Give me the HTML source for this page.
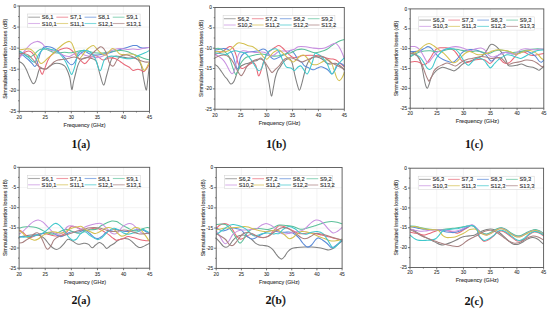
<!DOCTYPE html>
<html><head><meta charset="utf-8"><style>
html,body{margin:0;padding:0;background:#fff;width:550px;height:310px;overflow:hidden}
svg{display:block}
text{font-family:"Liberation Sans",sans-serif;fill:#333}
.grid{stroke:#ededed;stroke-width:0.6}
.cv{fill:none;stroke-width:1.05}
.frame{fill:none;stroke:#555;stroke-width:0.9}
.tk{stroke:#555;stroke-width:0.8}
.tl{font-size:4.8px;fill:#333;stroke:#333;stroke-width:0.08}
.at{font-size:5.4px;fill:#333;stroke:#333;stroke-width:0.1}
.leg{fill:#fff;stroke:#d0d0d0;stroke-width:0.5}
.ll{stroke-width:1.1}
.ft{font-size:5.8px}
.lt{font-size:5.7px;fill:#2a2a2a;stroke:#2a2a2a;stroke-width:0.1}
.cap{font-family:"Liberation Serif",serif;font-size:11.2px;fill:#111}
.pn{font-weight:normal;font-size:11.9px;stroke:#111;stroke-width:0.3}
</style></head><body>
<svg width="550" height="310" viewBox="0 0 550 310">
<g><line x1="45.26" y1="6.00" x2="45.26" y2="111.35" class="grid"/><line x1="71.32" y1="6.00" x2="71.32" y2="111.35" class="grid"/><line x1="97.38" y1="6.00" x2="97.38" y2="111.35" class="grid"/><line x1="123.44" y1="6.00" x2="123.44" y2="111.35" class="grid"/><line x1="19.20" y1="27.07" x2="149.50" y2="27.07" class="grid"/><line x1="19.20" y1="48.14" x2="149.50" y2="48.14" class="grid"/><line x1="19.20" y1="69.21" x2="149.50" y2="69.21" class="grid"/><line x1="19.20" y1="90.28" x2="149.50" y2="90.28" class="grid"/><path d="M19.20 61.50C19.50 61.67 20.37 62.05 21.00 62.50C21.63 62.95 22.33 63.45 23.00 64.20C23.67 64.95 24.33 65.87 25.00 67.00C25.67 68.13 26.33 69.50 27.00 71.00C27.67 72.50 28.37 74.50 29.00 76.00C29.63 77.50 30.25 78.87 30.80 80.00C31.35 81.13 31.78 82.20 32.30 82.80C32.82 83.40 33.37 83.82 33.90 83.60C34.43 83.38 34.98 82.60 35.50 81.50C36.02 80.40 36.50 78.67 37.00 77.00C37.50 75.33 38.00 72.95 38.50 71.50C39.00 70.05 39.25 68.75 40.00 68.30C40.75 67.85 41.90 68.72 43.00 68.80C44.10 68.88 45.43 69.27 46.60 68.80C47.77 68.33 48.65 66.87 50.00 66.00C51.35 65.13 53.13 64.00 54.70 63.60C56.27 63.20 57.85 63.28 59.40 63.60C60.95 63.92 62.85 64.72 64.00 65.50C65.15 66.28 65.33 66.30 66.30 68.30C67.27 70.30 68.88 73.97 69.80 77.50C70.72 81.03 71.18 88.75 71.80 89.50C72.42 90.25 72.80 84.92 73.50 82.00C74.20 79.08 75.28 74.73 76.00 72.00C76.72 69.27 77.13 67.43 77.80 65.60C78.47 63.77 78.97 62.27 80.00 61.00C81.03 59.73 82.33 58.50 84.00 58.00C85.67 57.50 87.98 57.50 90.00 58.00C92.02 58.50 94.53 58.62 96.10 61.00C97.67 63.38 98.17 68.30 99.40 72.30C100.63 76.30 102.30 84.47 103.50 85.00C104.70 85.53 105.55 78.97 106.60 75.50C107.65 72.03 108.85 67.17 109.80 64.20C110.75 61.23 111.27 59.07 112.30 57.70C113.33 56.33 114.38 56.12 116.00 56.00C117.62 55.88 120.00 56.67 122.00 57.00C124.00 57.33 126.00 57.83 128.00 58.00C130.00 58.17 132.33 57.67 134.00 58.00C135.67 58.33 136.77 58.67 138.00 60.00C139.23 61.33 140.48 63.00 141.40 66.00C142.32 69.00 142.70 74.00 143.50 78.00C144.30 82.00 145.53 89.33 146.20 90.00C146.87 90.67 147.10 85.00 147.50 82.00C147.90 79.00 148.27 74.67 148.60 72.00C148.93 69.33 149.35 67.00 149.50 66.00" stroke="#808080" class="cv"/><path d="M19.20 56.40C19.97 55.80 22.23 53.70 23.80 52.80C25.37 51.90 27.20 51.00 28.60 51.00C30.00 51.00 31.00 51.50 32.20 52.80C33.40 54.10 34.80 56.80 35.80 58.80C36.80 60.80 37.20 62.27 38.20 64.80C39.20 67.33 40.88 72.90 41.80 74.00C42.72 75.10 43.00 72.90 43.70 71.40C44.40 69.90 45.23 66.97 46.00 65.00C46.77 63.03 47.40 61.23 48.30 59.60C49.20 57.97 50.08 56.53 51.40 55.20C52.72 53.87 54.60 52.60 56.20 51.60C57.80 50.60 59.20 49.80 61.00 49.20C62.80 48.60 65.20 47.80 67.00 48.00C68.80 48.20 70.20 49.00 71.80 50.40C73.40 51.80 75.00 54.60 76.60 56.40C78.20 58.20 80.00 60.00 81.40 61.20C82.80 62.40 83.80 63.80 85.00 63.60C86.20 63.40 87.40 61.20 88.60 60.00C89.80 58.80 90.80 57.07 92.20 56.40C93.60 55.73 95.20 55.40 97.00 56.00C98.80 56.60 101.00 59.67 103.00 60.00C105.00 60.33 107.00 58.25 109.00 58.00C111.00 57.75 113.20 57.97 115.00 58.50C116.80 59.03 118.20 60.15 119.80 61.20C121.40 62.25 123.00 63.80 124.60 64.80C126.20 65.80 128.00 66.27 129.40 67.20C130.80 68.13 131.60 70.07 133.00 70.40C134.40 70.73 136.40 69.20 137.80 69.20C139.20 69.20 140.40 70.00 141.40 70.40C142.40 70.80 143.00 71.80 143.80 71.60C144.60 71.40 145.40 70.20 146.20 69.20C147.00 68.20 148.05 66.47 148.60 65.60C149.15 64.73 149.35 64.27 149.50 64.00" stroke="#e86878" class="cv"/><path d="M19.20 52.80C19.97 53.30 22.23 54.60 23.80 55.80C25.37 57.00 27.20 58.70 28.60 60.00C30.00 61.30 31.15 62.52 32.20 63.60C33.25 64.68 34.00 66.70 34.90 66.50C35.80 66.30 36.75 64.48 37.60 62.40C38.45 60.32 39.10 56.40 40.00 54.00C40.90 51.60 42.10 49.23 43.00 48.00C43.90 46.77 44.20 46.77 45.40 46.60C46.60 46.43 48.60 46.57 50.20 47.00C51.80 47.43 53.40 48.23 55.00 49.20C56.60 50.17 58.20 51.40 59.80 52.80C61.40 54.20 63.20 56.00 64.60 57.60C66.00 59.20 67.10 61.20 68.20 62.40C69.30 63.60 70.20 64.70 71.20 64.80C72.20 64.90 73.10 64.40 74.20 63.00C75.30 61.60 76.60 58.10 77.80 56.40C79.00 54.70 80.20 53.60 81.40 52.80C82.60 52.00 83.60 51.40 85.00 51.60C86.40 51.80 88.13 53.43 89.80 54.00C91.47 54.57 93.13 54.92 95.00 55.00C96.87 55.08 98.67 54.83 101.00 54.50C103.33 54.17 106.67 53.58 109.00 53.00C111.33 52.42 113.00 51.63 115.00 51.00C117.00 50.37 119.00 49.80 121.00 49.20C123.00 48.60 125.00 48.00 127.00 47.40C129.00 46.80 131.40 45.90 133.00 45.60C134.60 45.30 135.40 45.30 136.60 45.60C137.80 45.90 138.80 47.00 140.20 47.40C141.60 47.80 143.45 48.00 145.00 48.00C146.55 48.00 148.75 47.50 149.50 47.40" stroke="#5a8ad8" class="cv"/><path d="M19.20 51.60C19.77 51.80 21.43 52.10 22.60 52.80C23.77 53.50 25.00 55.10 26.20 55.80C27.40 56.50 28.60 57.10 29.80 57.00C31.00 56.90 32.20 56.10 33.40 55.20C34.60 54.30 35.80 52.60 37.00 51.60C38.20 50.60 39.20 49.60 40.60 49.20C42.00 48.80 43.80 48.90 45.40 49.20C47.00 49.50 48.60 50.40 50.20 51.00C51.80 51.60 53.40 52.50 55.00 52.80C56.60 53.10 58.20 52.90 59.80 52.80C61.40 52.70 63.00 52.20 64.60 52.20C66.20 52.20 67.80 52.80 69.40 52.80C71.00 52.80 72.60 52.50 74.20 52.20C75.80 51.90 77.20 51.30 79.00 51.00C80.80 50.70 83.00 50.23 85.00 50.40C87.00 50.57 89.00 51.57 91.00 52.00C93.00 52.43 95.00 52.83 97.00 53.00C99.00 53.17 101.00 53.17 103.00 53.00C105.00 52.83 107.00 52.33 109.00 52.00C111.00 51.67 113.00 51.27 115.00 51.00C117.00 50.73 119.00 50.30 121.00 50.40C123.00 50.50 125.00 51.00 127.00 51.60C129.00 52.20 131.00 53.20 133.00 54.00C135.00 54.80 137.00 55.60 139.00 56.40C141.00 57.20 143.25 58.20 145.00 58.80C146.75 59.40 148.75 59.80 149.50 60.00" stroke="#5cc09a" class="cv"/><path d="M19.20 58.80C20.17 57.40 23.03 52.90 25.00 50.40C26.97 47.90 29.00 45.30 31.00 43.80C33.00 42.30 35.20 41.50 37.00 41.40C38.80 41.30 40.40 42.20 41.80 43.20C43.20 44.20 44.20 46.30 45.40 47.40C46.60 48.50 47.60 49.20 49.00 49.80C50.40 50.40 52.20 50.50 53.80 51.00C55.40 51.50 57.00 52.10 58.60 52.80C60.20 53.50 61.60 54.60 63.40 55.20C65.20 55.80 67.60 56.60 69.40 56.40C71.20 56.20 72.60 54.60 74.20 54.00C75.80 53.40 77.20 52.60 79.00 52.80C80.80 53.00 83.00 54.58 85.00 55.20C87.00 55.82 89.00 56.10 91.00 56.50C93.00 56.90 95.00 57.68 97.00 57.60C99.00 57.52 101.00 56.93 103.00 56.00C105.00 55.07 107.00 53.13 109.00 52.00C111.00 50.87 113.00 49.77 115.00 49.20C117.00 48.63 119.00 48.55 121.00 48.60C123.00 48.65 125.00 49.43 127.00 49.50C129.00 49.57 131.00 49.00 133.00 49.00C135.00 49.00 137.00 49.67 139.00 49.50C141.00 49.33 143.25 48.35 145.00 48.00C146.75 47.65 148.75 47.50 149.50 47.40" stroke="#c890e0" class="cv"/><path d="M19.20 49.80C19.97 49.70 22.03 49.33 23.80 49.20C25.57 49.07 28.20 48.60 29.80 49.00C31.40 49.40 32.20 50.37 33.40 51.60C34.60 52.83 36.03 54.70 37.00 56.40C37.97 58.10 38.53 60.62 39.20 61.80C39.87 62.98 40.30 63.40 41.00 63.50C41.70 63.60 42.27 63.28 43.40 62.40C44.53 61.52 46.27 59.60 47.80 58.20C49.33 56.80 51.00 55.50 52.60 54.00C54.20 52.50 55.80 50.70 57.40 49.20C59.00 47.70 60.60 46.20 62.20 45.00C63.80 43.80 65.80 42.60 67.00 42.00C68.20 41.40 68.60 41.20 69.40 41.40C70.20 41.60 71.00 41.90 71.80 43.20C72.60 44.50 73.40 47.20 74.20 49.20C75.00 51.20 75.80 53.60 76.60 55.20C77.40 56.80 78.10 58.67 79.00 58.80C79.90 58.93 81.00 57.20 82.00 56.00C83.00 54.80 83.90 52.93 85.00 51.60C86.10 50.27 87.20 49.00 88.60 48.00C90.00 47.00 92.00 45.40 93.40 45.60C94.80 45.80 95.80 48.00 97.00 49.20C98.20 50.40 99.20 51.80 100.60 52.80C102.00 53.80 104.00 55.40 105.40 55.20C106.80 55.00 107.80 52.70 109.00 51.60C110.20 50.50 111.40 48.80 112.60 48.60C113.80 48.40 115.00 49.50 116.20 50.40C117.40 51.30 118.40 53.30 119.80 54.00C121.20 54.70 122.80 54.60 124.60 54.60C126.40 54.60 128.80 53.90 130.60 54.00C132.40 54.10 134.00 54.40 135.40 55.20C136.80 56.00 138.00 57.20 139.00 58.80C140.00 60.40 140.60 62.90 141.40 64.80C142.20 66.70 143.00 69.60 143.80 70.20C144.60 70.80 145.40 69.50 146.20 68.40C147.00 67.30 148.05 64.67 148.60 63.60C149.15 62.53 149.35 62.27 149.50 62.00" stroke="#d4c050" class="cv"/><path d="M19.20 51.00C19.97 51.50 22.23 52.90 23.80 54.00C25.37 55.10 27.20 56.40 28.60 57.60C30.00 58.80 31.10 60.50 32.20 61.20C33.30 61.90 34.20 62.80 35.20 61.80C36.20 60.80 37.10 57.10 38.20 55.20C39.30 53.30 40.60 51.60 41.80 50.40C43.00 49.20 44.00 48.20 45.40 48.00C46.80 47.80 48.60 48.80 50.20 49.20C51.80 49.60 53.40 49.60 55.00 50.40C56.60 51.20 58.20 52.40 59.80 54.00C61.40 55.60 63.20 57.80 64.60 60.00C66.00 62.20 67.08 64.80 68.20 67.20C69.32 69.60 70.40 73.87 71.30 74.40C72.20 74.93 72.92 72.07 73.60 70.40C74.28 68.73 74.70 67.13 75.40 64.40C76.10 61.67 76.80 56.23 77.80 54.00C78.80 51.77 80.20 51.60 81.40 51.00C82.60 50.40 83.57 50.23 85.00 50.40C86.43 50.57 88.33 50.73 90.00 52.00C91.67 53.27 93.33 54.87 95.00 58.00C96.67 61.13 98.47 70.47 100.00 70.80C101.53 71.13 102.70 62.40 104.20 60.00C105.70 57.60 107.20 57.00 109.00 56.40C110.80 55.80 113.00 56.20 115.00 56.40C117.00 56.60 119.00 57.20 121.00 57.60C123.00 58.00 125.00 58.70 127.00 58.80C129.00 58.90 131.00 58.80 133.00 58.20C135.00 57.60 137.00 56.10 139.00 55.20C141.00 54.30 143.25 53.60 145.00 52.80C146.75 52.00 148.75 50.80 149.50 50.40" stroke="#40c8cc" class="cv"/><path d="M19.20 54.00C19.97 53.90 22.23 53.20 23.80 53.40C25.37 53.60 27.00 54.10 28.60 55.20C30.20 56.30 32.00 58.40 33.40 60.00C34.80 61.60 35.90 63.63 37.00 64.80C38.10 65.97 38.83 66.30 40.00 67.00C41.17 67.70 42.83 68.75 44.00 69.00C45.17 69.25 46.00 69.00 47.00 68.50C48.00 68.00 48.83 67.08 50.00 66.00C51.17 64.92 52.67 63.00 54.00 62.00C55.33 61.00 56.67 60.42 58.00 60.00C59.33 59.58 60.67 59.67 62.00 59.50C63.33 59.33 64.67 59.25 66.00 59.00C67.33 58.75 68.67 58.33 70.00 58.00C71.33 57.67 72.67 57.00 74.00 57.00C75.33 57.00 76.67 57.67 78.00 58.00C79.33 58.33 80.67 59.00 82.00 59.00C83.33 59.00 84.67 58.50 86.00 58.00C87.33 57.50 88.50 57.17 90.00 56.00C91.50 54.83 93.23 52.53 95.00 51.00C96.77 49.47 99.10 47.13 100.60 46.80C102.10 46.47 103.00 47.80 104.00 49.00C105.00 50.20 105.77 51.83 106.60 54.00C107.43 56.17 108.18 60.07 109.00 62.00C109.82 63.93 110.70 65.00 111.50 65.60C112.30 66.20 112.88 66.53 113.80 65.60C114.72 64.67 115.80 61.60 117.00 60.00C118.20 58.40 119.33 56.83 121.00 56.00C122.67 55.17 125.00 54.83 127.00 55.00C129.00 55.17 131.00 56.17 133.00 57.00C135.00 57.83 137.00 59.17 139.00 60.00C141.00 60.83 143.25 61.67 145.00 62.00C146.75 62.33 148.75 62.00 149.50 62.00" stroke="#a88080" class="cv"/><rect x="19.20" y="6.00" width="130.30" height="105.35" class="frame"/><line x1="17.20" y1="6.00" x2="19.20" y2="6.00" class="tk"/><line x1="18.10" y1="16.54" x2="19.20" y2="16.54" class="tk"/><line x1="17.20" y1="27.07" x2="19.20" y2="27.07" class="tk"/><line x1="18.10" y1="37.60" x2="19.20" y2="37.60" class="tk"/><line x1="17.20" y1="48.14" x2="19.20" y2="48.14" class="tk"/><line x1="18.10" y1="58.67" x2="19.20" y2="58.67" class="tk"/><line x1="17.20" y1="69.21" x2="19.20" y2="69.21" class="tk"/><line x1="18.10" y1="79.74" x2="19.20" y2="79.74" class="tk"/><line x1="17.20" y1="90.28" x2="19.20" y2="90.28" class="tk"/><line x1="18.10" y1="100.81" x2="19.20" y2="100.81" class="tk"/><line x1="17.20" y1="111.35" x2="19.20" y2="111.35" class="tk"/><line x1="19.20" y1="111.35" x2="19.20" y2="113.35" class="tk"/><line x1="32.23" y1="111.35" x2="32.23" y2="112.45" class="tk"/><line x1="45.26" y1="111.35" x2="45.26" y2="113.35" class="tk"/><line x1="58.29" y1="111.35" x2="58.29" y2="112.45" class="tk"/><line x1="71.32" y1="111.35" x2="71.32" y2="113.35" class="tk"/><line x1="84.35" y1="111.35" x2="84.35" y2="112.45" class="tk"/><line x1="97.38" y1="111.35" x2="97.38" y2="113.35" class="tk"/><line x1="110.41" y1="111.35" x2="110.41" y2="112.45" class="tk"/><line x1="123.44" y1="111.35" x2="123.44" y2="113.35" class="tk"/><line x1="136.47" y1="111.35" x2="136.47" y2="112.45" class="tk"/><line x1="149.50" y1="111.35" x2="149.50" y2="113.35" class="tk"/><text x="16.20" y="7.60" class="tl" text-anchor="end">0</text><text x="16.20" y="28.67" class="tl" text-anchor="end">-5</text><text x="16.20" y="49.74" class="tl" text-anchor="end">-10</text><text x="16.20" y="70.81" class="tl" text-anchor="end">-15</text><text x="16.20" y="91.88" class="tl" text-anchor="end">-20</text><text x="16.20" y="112.95" class="tl" text-anchor="end">-25</text><text x="19.20" y="118.50" class="tl" text-anchor="middle">20</text><text x="45.26" y="118.50" class="tl" text-anchor="middle">25</text><text x="71.32" y="118.50" class="tl" text-anchor="middle">30</text><text x="97.38" y="118.50" class="tl" text-anchor="middle">35</text><text x="123.44" y="118.50" class="tl" text-anchor="middle">40</text><text x="149.50" y="118.50" class="tl" text-anchor="middle">45</text><text x="63.60" y="127.10" class="at ft" textLength="42.0" lengthAdjust="spacingAndGlyphs">Frequency (GHz)</text><text transform="translate(6.90 58.67) rotate(-90)" class="at" text-anchor="middle" textLength="80.1" lengthAdjust="spacingAndGlyphs">Simmulated Insertion losses (dB)</text><rect x="27.40" y="14.00" width="112.70" height="13.2" class="leg"/><line x1="28.20" y1="17.20" x2="40.00" y2="17.20" stroke="#acacac" class="ll"/><text x="41.70" y="19.20" class="lt">S6,1</text><line x1="56.38" y1="17.20" x2="68.17" y2="17.20" stroke="#f09da7" class="ll"/><text x="69.88" y="19.20" class="lt">S7,1</text><line x1="84.55" y1="17.20" x2="96.35" y2="17.20" stroke="#94b3e6" class="ll"/><text x="98.05" y="19.20" class="lt">S8,1</text><line x1="112.73" y1="17.20" x2="124.53" y2="17.20" stroke="#95d6bd" class="ll"/><text x="126.23" y="19.20" class="lt">S9,1</text><line x1="28.20" y1="23.50" x2="40.00" y2="23.50" stroke="#dbb7eb" class="ll"/><text x="41.70" y="25.50" class="lt">S10,1</text><line x1="56.38" y1="23.50" x2="68.17" y2="23.50" stroke="#e3d68d" class="ll"/><text x="69.88" y="25.50" class="lt">S11,1</text><line x1="84.55" y1="23.50" x2="96.35" y2="23.50" stroke="#83dbde" class="ll"/><text x="98.05" y="25.50" class="lt">S12,1</text><line x1="112.73" y1="23.50" x2="124.53" y2="23.50" stroke="#c6acac" class="ll"/><text x="126.23" y="25.50" class="lt">S13,1</text><text x="71.60" y="148.30" class="cap" textLength="18.34" lengthAdjust="spacingAndGlyphs"><tspan font-weight="bold" font-size="12.3px">1</tspan><tspan class="pn">(</tspan><tspan font-weight="bold" font-size="10.6px">a</tspan><tspan class="pn">)</tspan></text></g><g><line x1="240.78" y1="7.50" x2="240.78" y2="109.20" class="grid"/><line x1="266.66" y1="7.50" x2="266.66" y2="109.20" class="grid"/><line x1="292.54" y1="7.50" x2="292.54" y2="109.20" class="grid"/><line x1="318.42" y1="7.50" x2="318.42" y2="109.20" class="grid"/><line x1="214.90" y1="27.84" x2="344.30" y2="27.84" class="grid"/><line x1="214.90" y1="48.18" x2="344.30" y2="48.18" class="grid"/><line x1="214.90" y1="68.52" x2="344.30" y2="68.52" class="grid"/><line x1="214.90" y1="88.86" x2="344.30" y2="88.86" class="grid"/><path d="M214.90 64.60C215.35 64.90 216.55 65.30 217.60 66.40C218.65 67.50 220.00 69.52 221.20 71.20C222.40 72.88 223.80 75.17 224.80 76.50C225.80 77.83 226.20 77.95 227.20 79.20C228.20 80.45 229.70 83.60 230.80 84.00C231.90 84.40 232.93 82.93 233.80 81.60C234.67 80.27 235.30 77.93 236.00 76.00C236.70 74.07 237.17 71.67 238.00 70.00C238.83 68.33 239.83 67.00 241.00 66.00C242.17 65.00 243.67 64.50 245.00 64.00C246.33 63.50 247.67 63.42 249.00 63.00C250.33 62.58 251.63 61.93 253.00 61.50C254.37 61.07 255.90 60.98 257.20 60.40C258.50 59.82 259.83 58.07 260.80 58.00C261.77 57.93 262.20 58.80 263.00 60.00C263.80 61.20 264.97 63.33 265.60 65.20C266.23 67.07 266.20 68.07 266.80 71.20C267.40 74.33 268.43 79.87 269.20 84.00C269.97 88.13 270.70 95.40 271.40 96.00C272.10 96.60 272.77 90.60 273.40 87.60C274.03 84.60 274.50 80.80 275.20 78.00C275.90 75.20 276.80 72.60 277.60 70.80C278.40 69.00 279.17 68.47 280.00 67.20C280.83 65.93 281.57 64.47 282.60 63.20C283.63 61.93 285.00 60.30 286.20 59.60C287.40 58.90 288.80 58.40 289.80 59.00C290.80 59.60 291.40 60.70 292.20 63.20C293.00 65.70 293.80 70.60 294.60 74.00C295.40 77.40 296.20 80.90 297.00 83.60C297.80 86.30 298.60 90.20 299.40 90.20C300.20 90.20 301.00 86.30 301.80 83.60C302.60 80.90 303.40 77.00 304.20 74.00C305.00 71.00 305.80 67.80 306.60 65.60C307.40 63.40 308.00 62.20 309.00 60.80C310.00 59.40 311.27 57.83 312.60 57.20C313.93 56.57 315.43 56.70 317.00 57.00C318.57 57.30 320.33 57.97 322.00 59.00C323.67 60.03 325.50 62.37 327.00 63.20C328.50 64.03 329.60 64.00 331.00 64.00C332.40 64.00 334.07 63.03 335.40 63.20C336.73 63.37 337.80 64.20 339.00 65.00C340.20 65.80 341.72 67.17 342.60 68.00C343.48 68.83 344.02 69.67 344.30 70.00" stroke="#808080" class="cv"/><path d="M214.90 54.40C215.58 54.17 217.55 53.60 219.00 53.00C220.45 52.40 221.83 51.87 223.60 50.80C225.37 49.73 228.00 47.00 229.60 46.60C231.20 46.20 232.10 46.90 233.20 48.40C234.30 49.90 235.40 53.20 236.20 55.60C237.00 58.00 237.30 60.80 238.00 62.80C238.70 64.80 239.60 66.67 240.40 67.60C241.20 68.53 242.00 68.47 242.80 68.40C243.60 68.33 244.00 67.93 245.20 67.20C246.40 66.47 248.60 64.73 250.00 64.00C251.40 63.27 252.60 62.47 253.60 62.80C254.60 63.13 255.20 63.87 256.00 66.00C256.80 68.13 257.70 74.40 258.40 75.60C259.10 76.80 259.60 74.60 260.20 73.20C260.80 71.80 261.30 69.53 262.00 67.20C262.70 64.87 263.60 61.33 264.40 59.20C265.20 57.07 265.80 55.80 266.80 54.40C267.80 53.00 269.00 52.00 270.40 50.80C271.80 49.60 273.77 48.07 275.20 47.20C276.63 46.33 277.77 45.47 279.00 45.60C280.23 45.73 281.40 47.00 282.60 48.00C283.80 49.00 285.00 50.40 286.20 51.60C287.40 52.80 288.60 54.20 289.80 55.20C291.00 56.20 292.03 57.30 293.40 57.60C294.77 57.90 296.40 57.35 298.00 57.00C299.60 56.65 300.97 55.80 303.00 55.50C305.03 55.20 308.03 55.20 310.20 55.20C312.37 55.20 314.37 55.28 316.00 55.50C317.63 55.72 318.57 56.15 320.00 56.50C321.43 56.85 323.03 57.22 324.60 57.60C326.17 57.98 328.00 58.57 329.40 58.80C330.80 59.03 331.90 58.80 333.00 59.00C334.10 59.20 335.00 59.43 336.00 60.00C337.00 60.57 338.10 61.67 339.00 62.40C339.90 63.13 340.52 63.63 341.40 64.40C342.28 65.17 343.82 66.57 344.30 67.00" stroke="#e86878" class="cv"/><path d="M214.90 50.20C215.55 50.10 217.35 49.90 218.80 49.60C220.25 49.30 222.00 48.40 223.60 48.40C225.20 48.40 227.00 48.80 228.40 49.60C229.80 50.40 231.00 51.40 232.00 53.20C233.00 55.00 233.70 58.18 234.40 60.40C235.10 62.62 235.70 65.07 236.20 66.50C236.70 67.93 236.93 69.08 237.40 69.00C237.87 68.92 238.50 67.83 239.00 66.00C239.50 64.17 239.57 60.13 240.40 58.00C241.23 55.87 242.60 54.20 244.00 53.20C245.40 52.20 247.20 52.30 248.80 52.00C250.40 51.70 252.00 51.60 253.60 51.40C255.20 51.20 256.80 51.20 258.40 50.80C260.00 50.40 261.80 49.00 263.20 49.00C264.60 49.00 265.60 49.50 266.80 50.80C268.00 52.10 269.20 55.40 270.40 56.80C271.60 58.20 272.40 59.20 274.00 59.20C275.60 59.20 278.50 57.50 280.00 56.80C281.50 56.10 281.97 55.47 283.00 55.00C284.03 54.53 284.87 54.77 286.20 54.00C287.53 53.23 289.60 50.40 291.00 50.40C292.40 50.40 293.40 52.40 294.60 54.00C295.80 55.60 297.00 58.60 298.20 60.00C299.40 61.40 300.80 61.47 301.80 62.40C302.80 63.33 303.17 64.75 304.20 65.60C305.23 66.45 306.80 66.90 308.00 67.50C309.20 68.10 310.43 68.82 311.40 69.20C312.37 69.58 312.80 70.00 313.80 69.80C314.80 69.60 316.20 68.50 317.40 68.00C318.60 67.50 319.80 66.80 321.00 66.80C322.20 66.80 323.43 67.47 324.60 68.00C325.77 68.53 326.80 69.00 328.00 70.00C329.20 71.00 330.57 74.13 331.80 74.00C333.03 73.87 334.20 71.00 335.40 69.20C336.60 67.40 337.90 64.07 339.00 63.20C340.10 62.33 341.12 63.53 342.00 64.00C342.88 64.47 343.92 65.67 344.30 66.00" stroke="#5a8ad8" class="cv"/><path d="M214.90 49.00C215.55 48.90 217.35 48.10 218.80 48.40C220.25 48.70 222.00 49.60 223.60 50.80C225.20 52.00 227.20 53.80 228.40 55.60C229.60 57.40 230.00 59.40 230.80 61.60C231.60 63.80 232.40 66.67 233.20 68.80C234.00 70.93 234.90 73.87 235.60 74.40C236.30 74.93 236.80 73.00 237.40 72.00C238.00 71.00 238.70 69.73 239.20 68.40C239.70 67.07 239.60 65.53 240.40 64.00C241.20 62.47 242.80 60.40 244.00 59.20C245.20 58.00 246.20 57.40 247.60 56.80C249.00 56.20 250.83 55.98 252.40 55.60C253.97 55.22 255.40 54.77 257.00 54.50C258.60 54.23 260.33 53.92 262.00 54.00C263.67 54.08 265.33 54.67 267.00 55.00C268.67 55.33 270.33 55.83 272.00 56.00C273.67 56.17 275.33 56.17 277.00 56.00C278.67 55.83 280.33 55.42 282.00 55.00C283.67 54.58 285.50 53.87 287.00 53.50C288.50 53.13 289.33 53.42 291.00 52.80C292.67 52.18 295.00 50.40 297.00 49.80C299.00 49.20 301.00 49.00 303.00 49.20C305.00 49.40 307.00 50.40 309.00 51.00C311.00 51.60 313.00 52.70 315.00 52.80C317.00 52.90 319.00 52.20 321.00 51.60C323.00 51.00 325.20 50.20 327.00 49.20C328.80 48.20 330.40 46.60 331.80 45.60C333.20 44.60 334.00 44.00 335.40 43.20C336.80 42.40 338.72 41.40 340.20 40.80C341.68 40.20 343.62 39.80 344.30 39.60" stroke="#5cc09a" class="cv"/><path d="M214.90 54.40C215.42 54.67 216.75 55.20 218.00 56.00C219.25 56.80 221.07 57.87 222.40 59.20C223.73 60.53 224.80 62.07 226.00 64.00C227.20 65.93 228.60 69.17 229.60 70.80C230.60 72.43 231.30 73.60 232.00 73.80C232.70 74.00 233.30 72.90 233.80 72.00C234.30 71.10 234.50 70.33 235.00 68.40C235.50 66.47 236.10 62.93 236.80 60.40C237.50 57.87 238.20 54.80 239.20 53.20C240.20 51.60 241.40 51.10 242.80 50.80C244.20 50.50 246.07 51.20 247.60 51.40C249.13 51.60 250.43 51.82 252.00 52.00C253.57 52.18 255.33 52.50 257.00 52.50C258.67 52.50 260.50 51.92 262.00 52.00C263.50 52.08 264.67 52.33 266.00 53.00C267.33 53.67 268.67 55.67 270.00 56.00C271.33 56.33 272.67 55.67 274.00 55.00C275.33 54.33 276.67 52.67 278.00 52.00C279.33 51.33 280.50 51.17 282.00 51.00C283.50 50.83 285.50 51.17 287.00 51.00C288.50 50.83 289.73 50.30 291.00 50.00C292.27 49.70 293.40 49.73 294.60 49.20C295.80 48.67 296.40 47.20 298.20 46.80C300.00 46.40 303.00 46.60 305.40 46.80C307.80 47.00 310.40 47.70 312.60 48.00C314.80 48.30 316.60 48.60 318.60 48.60C320.60 48.60 322.70 48.52 324.60 48.00C326.50 47.48 328.20 46.30 330.00 45.50C331.80 44.70 333.90 42.98 335.40 43.20C336.90 43.42 337.80 45.00 339.00 46.80C340.20 48.60 341.72 52.00 342.60 54.00C343.48 56.00 344.02 58.00 344.30 58.80" stroke="#c890e0" class="cv"/><path d="M214.90 52.00C215.55 51.90 217.35 51.40 218.80 51.40C220.25 51.40 222.00 52.10 223.60 52.00C225.20 51.90 226.80 51.60 228.40 50.80C230.00 50.00 231.60 48.50 233.20 47.20C234.80 45.90 236.40 43.60 238.00 43.00C239.60 42.40 241.20 43.20 242.80 43.60C244.40 44.00 246.00 44.90 247.60 45.40C249.20 45.90 251.00 46.00 252.40 46.60C253.80 47.20 254.80 48.10 256.00 49.00C257.20 49.90 258.40 50.70 259.60 52.00C260.80 53.30 262.00 55.60 263.20 56.80C264.40 58.00 265.60 59.40 266.80 59.20C268.00 59.00 269.20 56.80 270.40 55.60C271.60 54.40 272.57 52.93 274.00 52.00C275.43 51.07 277.37 49.67 279.00 50.00C280.63 50.33 282.20 52.53 283.80 54.00C285.40 55.47 287.40 57.67 288.60 58.80C289.80 59.93 290.18 60.27 291.00 60.80C291.82 61.33 292.67 62.13 293.50 62.00C294.33 61.87 294.82 61.03 296.00 60.00C297.18 58.97 299.23 56.60 300.60 55.80C301.97 55.00 303.00 54.70 304.20 55.20C305.40 55.70 306.75 57.50 307.80 58.80C308.85 60.10 309.70 62.07 310.50 63.00C311.30 63.93 311.45 64.17 312.60 64.40C313.75 64.63 315.80 64.80 317.40 64.40C319.00 64.00 320.60 62.80 322.20 62.00C323.80 61.20 325.53 59.60 327.00 59.60C328.47 59.60 329.80 60.20 331.00 62.00C332.20 63.80 333.27 67.80 334.20 70.40C335.13 73.00 335.80 75.90 336.60 77.60C337.40 79.30 338.20 80.40 339.00 80.60C339.80 80.80 340.60 79.90 341.40 78.80C342.20 77.70 343.32 75.13 343.80 74.00C344.28 72.87 344.22 72.33 344.30 72.00" stroke="#d4c050" class="cv"/><path d="M214.90 53.00C215.75 53.08 218.15 53.27 220.00 53.50C221.85 53.73 224.20 54.65 226.00 54.40C227.80 54.15 229.20 52.60 230.80 52.00C232.40 51.40 234.00 50.80 235.60 50.80C237.20 50.80 238.80 51.60 240.40 52.00C242.00 52.40 243.80 52.40 245.20 53.20C246.60 54.00 247.60 55.40 248.80 56.80C250.00 58.20 251.20 59.80 252.40 61.60C253.60 63.40 254.90 66.07 256.00 67.60C257.10 69.13 258.00 70.80 259.00 70.80C260.00 70.80 261.10 69.53 262.00 67.60C262.90 65.67 263.40 61.80 264.40 59.20C265.40 56.60 266.80 53.60 268.00 52.00C269.20 50.40 270.20 50.10 271.60 49.60C273.00 49.10 275.17 48.60 276.40 49.00C277.63 49.40 277.97 50.17 279.00 52.00C280.03 53.83 281.40 57.53 282.60 60.00C283.80 62.47 284.80 65.47 286.20 66.80C287.60 68.13 289.60 67.40 291.00 68.00C292.40 68.60 293.43 70.57 294.60 70.40C295.77 70.23 296.93 67.73 298.00 67.00C299.07 66.27 299.97 65.43 301.00 66.00C302.03 66.57 303.17 69.07 304.20 70.40C305.23 71.73 306.20 74.40 307.20 74.00C308.20 73.60 309.23 70.33 310.20 68.00C311.17 65.67 312.20 62.43 313.00 60.00C313.80 57.57 313.87 54.20 315.00 53.40C316.13 52.60 318.40 54.30 319.80 55.20C321.20 56.10 322.20 57.47 323.40 58.80C324.60 60.13 326.00 61.47 327.00 63.20C328.00 64.93 328.60 67.40 329.40 69.20C330.20 71.00 331.00 73.60 331.80 74.00C332.60 74.40 333.40 73.00 334.20 71.60C335.00 70.20 335.60 67.20 336.60 65.60C337.60 64.00 339.00 63.20 340.20 62.00C341.40 60.80 343.12 59.07 343.80 58.40C344.48 57.73 344.22 58.07 344.30 58.00" stroke="#40c8cc" class="cv"/><path d="M214.90 58.00C215.58 57.67 217.48 56.50 219.00 56.00C220.52 55.50 222.33 54.83 224.00 55.00C225.67 55.17 227.50 55.83 229.00 57.00C230.50 58.17 231.70 59.90 233.00 62.00C234.30 64.10 235.47 67.33 236.80 69.60C238.13 71.87 239.80 75.20 241.00 75.60C242.20 76.00 243.10 73.40 244.00 72.00C244.90 70.60 245.40 68.70 246.40 67.20C247.40 65.70 248.57 64.20 250.00 63.00C251.43 61.80 253.33 60.67 255.00 60.00C256.67 59.33 258.50 58.83 260.00 59.00C261.50 59.17 262.67 59.67 264.00 61.00C265.33 62.33 266.93 65.37 268.00 67.00C269.07 68.63 269.70 69.87 270.40 70.80C271.10 71.73 271.40 72.80 272.20 72.60C273.00 72.40 274.07 70.70 275.20 69.60C276.33 68.50 277.77 67.47 279.00 66.00C280.23 64.53 281.27 62.13 282.60 60.80C283.93 59.47 285.43 58.47 287.00 58.00C288.57 57.53 290.33 57.67 292.00 58.00C293.67 58.33 295.33 59.33 297.00 60.00C298.67 60.67 300.33 62.00 302.00 62.00C303.67 62.00 305.33 60.67 307.00 60.00C308.67 59.33 310.17 58.67 312.00 58.00C313.83 57.33 316.00 56.17 318.00 56.00C320.00 55.83 322.00 56.00 324.00 57.00C326.00 58.00 328.33 60.83 330.00 62.00C331.67 63.17 332.67 63.33 334.00 64.00C335.33 64.67 336.67 65.33 338.00 66.00C339.33 66.67 340.95 67.33 342.00 68.00C343.05 68.67 343.92 69.67 344.30 70.00" stroke="#a88080" class="cv"/><rect x="214.90" y="7.50" width="129.40" height="101.70" class="frame"/><line x1="212.90" y1="7.50" x2="214.90" y2="7.50" class="tk"/><line x1="213.80" y1="17.67" x2="214.90" y2="17.67" class="tk"/><line x1="212.90" y1="27.84" x2="214.90" y2="27.84" class="tk"/><line x1="213.80" y1="38.01" x2="214.90" y2="38.01" class="tk"/><line x1="212.90" y1="48.18" x2="214.90" y2="48.18" class="tk"/><line x1="213.80" y1="58.35" x2="214.90" y2="58.35" class="tk"/><line x1="212.90" y1="68.52" x2="214.90" y2="68.52" class="tk"/><line x1="213.80" y1="78.69" x2="214.90" y2="78.69" class="tk"/><line x1="212.90" y1="88.86" x2="214.90" y2="88.86" class="tk"/><line x1="213.80" y1="99.03" x2="214.90" y2="99.03" class="tk"/><line x1="212.90" y1="109.20" x2="214.90" y2="109.20" class="tk"/><line x1="214.90" y1="109.20" x2="214.90" y2="111.20" class="tk"/><line x1="227.84" y1="109.20" x2="227.84" y2="110.30" class="tk"/><line x1="240.78" y1="109.20" x2="240.78" y2="111.20" class="tk"/><line x1="253.72" y1="109.20" x2="253.72" y2="110.30" class="tk"/><line x1="266.66" y1="109.20" x2="266.66" y2="111.20" class="tk"/><line x1="279.60" y1="109.20" x2="279.60" y2="110.30" class="tk"/><line x1="292.54" y1="109.20" x2="292.54" y2="111.20" class="tk"/><line x1="305.48" y1="109.20" x2="305.48" y2="110.30" class="tk"/><line x1="318.42" y1="109.20" x2="318.42" y2="111.20" class="tk"/><line x1="331.36" y1="109.20" x2="331.36" y2="110.30" class="tk"/><line x1="344.30" y1="109.20" x2="344.30" y2="111.20" class="tk"/><text x="211.90" y="9.10" class="tl" text-anchor="end">0</text><text x="211.90" y="29.44" class="tl" text-anchor="end">-5</text><text x="211.90" y="49.78" class="tl" text-anchor="end">-10</text><text x="211.90" y="70.12" class="tl" text-anchor="end">-15</text><text x="211.90" y="90.46" class="tl" text-anchor="end">-20</text><text x="211.90" y="110.80" class="tl" text-anchor="end">-25</text><text x="214.90" y="116.60" class="tl" text-anchor="middle">20</text><text x="240.78" y="116.60" class="tl" text-anchor="middle">25</text><text x="266.66" y="116.60" class="tl" text-anchor="middle">30</text><text x="292.54" y="116.60" class="tl" text-anchor="middle">35</text><text x="318.42" y="116.60" class="tl" text-anchor="middle">40</text><text x="344.30" y="116.60" class="tl" text-anchor="middle">45</text><text x="258.70" y="124.90" class="at ft" textLength="41.7" lengthAdjust="spacingAndGlyphs">Frequency (GHz)</text><text transform="translate(202.60 58.35) rotate(-90)" class="at" text-anchor="middle" textLength="77.3" lengthAdjust="spacingAndGlyphs">Simmulated Insertion losses (dB)</text><rect x="223.10" y="15.50" width="111.80" height="13.2" class="leg"/><line x1="223.90" y1="18.70" x2="235.70" y2="18.70" stroke="#acacac" class="ll"/><text x="237.40" y="20.70" class="lt">S6,2</text><line x1="251.85" y1="18.70" x2="263.65" y2="18.70" stroke="#f09da7" class="ll"/><text x="265.35" y="20.70" class="lt">S7,2</text><line x1="279.80" y1="18.70" x2="291.60" y2="18.70" stroke="#94b3e6" class="ll"/><text x="293.30" y="20.70" class="lt">S8,2</text><line x1="307.75" y1="18.70" x2="319.55" y2="18.70" stroke="#95d6bd" class="ll"/><text x="321.25" y="20.70" class="lt">S9,2</text><line x1="223.90" y1="25.00" x2="235.70" y2="25.00" stroke="#dbb7eb" class="ll"/><text x="237.40" y="27.00" class="lt">S10,2</text><line x1="251.85" y1="25.00" x2="263.65" y2="25.00" stroke="#e3d68d" class="ll"/><text x="265.35" y="27.00" class="lt">S11,2</text><line x1="279.80" y1="25.00" x2="291.60" y2="25.00" stroke="#83dbde" class="ll"/><text x="293.30" y="27.00" class="lt">S12,2</text><line x1="307.75" y1="25.00" x2="319.55" y2="25.00" stroke="#c6acac" class="ll"/><text x="321.25" y="27.00" class="lt">S13,2</text><text x="265.90" y="148.20" class="cap" textLength="20.25" lengthAdjust="spacingAndGlyphs"><tspan font-weight="bold" font-size="12.3px">1</tspan><tspan class="pn">(</tspan><tspan font-weight="bold" font-size="11.4px">b</tspan><tspan class="pn">)</tspan></text></g><g><line x1="436.92" y1="8.90" x2="436.92" y2="108.20" class="grid"/><line x1="463.64" y1="8.90" x2="463.64" y2="108.20" class="grid"/><line x1="490.36" y1="8.90" x2="490.36" y2="108.20" class="grid"/><line x1="517.08" y1="8.90" x2="517.08" y2="108.20" class="grid"/><line x1="410.20" y1="28.76" x2="543.80" y2="28.76" class="grid"/><line x1="410.20" y1="48.62" x2="543.80" y2="48.62" class="grid"/><line x1="410.20" y1="68.48" x2="543.80" y2="68.48" class="grid"/><line x1="410.20" y1="88.34" x2="543.80" y2="88.34" class="grid"/><path d="M410.20 51.40C410.97 51.70 413.23 51.90 414.80 53.20C416.37 54.50 418.40 56.87 419.60 59.20C420.80 61.53 421.30 64.27 422.00 67.20C422.70 70.13 423.20 73.80 423.80 76.80C424.40 79.80 425.00 83.30 425.60 85.20C426.20 87.10 426.80 88.40 427.40 88.20C428.00 88.00 428.60 85.70 429.20 84.00C429.80 82.30 430.20 79.80 431.00 78.00C431.80 76.20 432.90 74.60 434.00 73.20C435.10 71.80 436.20 70.60 437.60 69.60C439.00 68.60 440.80 67.40 442.40 67.20C444.00 67.00 445.60 67.90 447.20 68.40C448.80 68.90 450.80 69.80 452.00 70.20C453.20 70.60 453.40 71.10 454.40 70.80C455.40 70.50 456.80 69.40 458.00 68.40C459.20 67.40 460.40 65.80 461.60 64.80C462.80 63.80 463.80 63.00 465.20 62.40C466.60 61.80 468.37 61.77 470.00 61.20C471.63 60.63 473.33 59.70 475.00 59.00C476.67 58.30 478.60 57.70 480.00 57.00C481.40 56.30 482.22 55.98 483.40 54.80C484.58 53.62 486.07 51.43 487.10 49.90C488.13 48.37 488.77 46.53 489.60 45.60C490.43 44.67 491.07 44.20 492.10 44.30C493.13 44.40 494.57 45.27 495.80 46.20C497.03 47.13 498.27 48.47 499.50 49.90C500.73 51.33 502.07 52.95 503.20 54.80C504.33 56.65 505.48 59.25 506.30 61.00C507.12 62.75 507.18 64.47 508.10 65.30C509.02 66.13 510.35 66.00 511.80 66.00C513.25 66.00 515.15 65.62 516.80 65.30C518.45 64.98 519.85 63.88 521.70 64.10C523.55 64.32 526.03 66.08 527.90 66.60C529.77 67.12 531.45 66.80 532.90 67.20C534.35 67.60 535.58 68.48 536.60 69.00C537.62 69.52 538.18 70.40 539.00 70.30C539.82 70.20 540.70 69.02 541.50 68.40C542.30 67.78 543.42 66.90 543.80 66.60" stroke="#808080" class="cv"/><path d="M410.20 62.20C410.97 62.10 413.23 61.57 414.80 61.60C416.37 61.63 418.20 61.87 419.60 62.40C421.00 62.93 422.05 64.62 423.20 64.80C424.35 64.98 425.30 64.63 426.50 63.50C427.70 62.37 429.15 59.92 430.40 58.00C431.65 56.08 433.00 53.50 434.00 52.00C435.00 50.50 435.40 49.70 436.40 49.00C437.40 48.30 438.57 48.00 440.00 47.80C441.43 47.60 443.40 47.70 445.00 47.80C446.60 47.90 448.03 47.90 449.60 48.40C451.17 48.90 453.00 49.60 454.40 50.80C455.80 52.00 456.80 54.00 458.00 55.60C459.20 57.20 460.40 59.20 461.60 60.40C462.80 61.60 463.97 62.53 465.20 62.80C466.43 63.07 467.70 62.38 469.00 62.00C470.30 61.62 471.83 60.87 473.00 60.50C474.17 60.13 474.67 60.00 476.00 59.80C477.33 59.60 479.50 59.27 481.00 59.30C482.50 59.33 483.57 59.30 485.00 60.00C486.43 60.70 488.35 63.25 489.60 63.50C490.85 63.75 491.47 62.53 492.50 61.50C493.53 60.47 494.63 57.80 495.80 57.30C496.97 56.80 498.27 57.68 499.50 58.50C500.73 59.32 501.97 61.37 503.20 62.20C504.43 63.03 505.67 63.60 506.90 63.50C508.13 63.40 509.37 62.63 510.60 61.60C511.83 60.57 513.07 58.63 514.30 57.30C515.53 55.97 516.77 54.53 518.00 53.60C519.23 52.67 520.47 51.90 521.70 51.70C522.93 51.50 524.15 51.88 525.40 52.40C526.65 52.92 527.93 54.28 529.20 54.80C530.47 55.32 531.53 55.55 533.00 55.50C534.47 55.45 536.20 54.83 538.00 54.50C539.80 54.17 542.83 53.67 543.80 53.50" stroke="#e86878" class="cv"/><path d="M410.20 51.40C410.97 51.40 413.23 51.47 414.80 51.40C416.37 51.33 418.00 51.50 419.60 51.00C421.20 50.50 423.00 49.13 424.40 48.40C425.80 47.67 426.80 46.60 428.00 46.60C429.20 46.60 430.40 47.30 431.60 48.40C432.80 49.50 434.00 51.80 435.20 53.20C436.40 54.60 437.40 55.70 438.80 56.80C440.20 57.90 442.00 59.00 443.60 59.80C445.20 60.60 446.80 61.20 448.40 61.60C450.00 62.00 451.60 62.80 453.20 62.20C454.80 61.60 456.60 59.50 458.00 58.00C459.40 56.50 460.40 54.40 461.60 53.20C462.80 52.00 463.80 51.40 465.20 50.80C466.60 50.20 468.20 49.75 470.00 49.60C471.80 49.45 474.17 49.55 476.00 49.90C477.83 50.25 479.35 50.88 481.00 51.70C482.65 52.52 484.47 53.45 485.90 54.80C487.33 56.15 488.57 58.77 489.60 59.80C490.63 60.83 491.07 61.42 492.10 61.00C493.13 60.58 494.37 58.53 495.80 57.30C497.23 56.07 499.05 54.42 500.70 53.60C502.35 52.78 504.05 52.42 505.70 52.40C507.35 52.38 508.97 53.20 510.60 53.50C512.23 53.80 513.85 54.37 515.50 54.20C517.15 54.03 518.85 53.02 520.50 52.50C522.15 51.98 523.82 51.10 525.40 51.10C526.98 51.10 528.35 51.67 530.00 52.50C531.65 53.33 533.80 54.68 535.30 56.10C536.80 57.52 537.97 59.98 539.00 61.00C540.03 62.02 540.70 62.37 541.50 62.20C542.30 62.03 543.42 60.37 543.80 60.00" stroke="#5a8ad8" class="cv"/><path d="M410.20 56.80C410.97 56.40 413.23 55.20 414.80 54.40C416.37 53.60 418.00 52.57 419.60 52.00C421.20 51.43 422.60 51.20 424.40 51.00C426.20 50.80 428.47 50.72 430.40 50.80C432.33 50.88 434.07 51.47 436.00 51.50C437.93 51.53 440.00 51.33 442.00 51.00C444.00 50.67 446.00 49.83 448.00 49.50C450.00 49.17 452.00 48.92 454.00 49.00C456.00 49.08 458.00 49.67 460.00 50.00C462.00 50.33 464.00 50.75 466.00 51.00C468.00 51.25 470.33 51.50 472.00 51.50C473.67 51.50 474.33 50.92 476.00 51.00C477.67 51.08 479.93 51.57 482.00 52.00C484.07 52.43 486.32 53.75 488.40 53.60C490.48 53.45 492.45 51.72 494.50 51.10C496.55 50.48 498.63 49.90 500.70 49.90C502.77 49.90 505.02 50.68 506.90 51.10C508.78 51.52 510.15 52.25 512.00 52.40C513.85 52.55 515.83 52.32 518.00 52.00C520.17 51.68 522.73 50.95 525.00 50.50C527.27 50.05 529.47 49.60 531.60 49.30C533.73 49.00 535.77 48.70 537.80 48.70C539.83 48.70 542.80 49.20 543.80 49.30" stroke="#5cc09a" class="cv"/><path d="M410.20 46.60C410.97 46.60 413.43 46.30 414.80 46.60C416.17 46.90 417.20 47.30 418.40 48.40C419.60 49.50 420.80 51.30 422.00 53.20C423.20 55.10 424.60 58.20 425.60 59.80C426.60 61.40 427.20 62.70 428.00 62.80C428.80 62.90 429.40 61.60 430.40 60.40C431.40 59.20 432.80 57.00 434.00 55.60C435.20 54.20 436.27 52.85 437.60 52.00C438.93 51.15 440.60 51.00 442.00 50.50C443.40 50.00 444.53 49.55 446.00 49.00C447.47 48.45 449.20 47.60 450.80 47.20C452.40 46.80 454.00 46.60 455.60 46.60C457.20 46.60 458.80 46.80 460.40 47.20C462.00 47.60 463.60 48.40 465.20 49.00C466.80 49.60 468.20 50.85 470.00 50.80C471.80 50.75 474.17 49.17 476.00 48.70C477.83 48.23 479.55 47.80 481.00 48.00C482.45 48.20 483.47 48.77 484.70 49.90C485.93 51.03 487.18 53.62 488.40 54.80C489.62 55.98 490.73 56.80 492.00 57.00C493.27 57.20 494.55 56.47 496.00 56.00C497.45 55.53 499.08 54.80 500.70 54.20C502.32 53.60 504.05 52.50 505.70 52.40C507.35 52.30 508.97 53.40 510.60 53.60C512.23 53.80 513.85 54.22 515.50 53.60C517.15 52.98 518.85 50.72 520.50 49.90C522.15 49.08 523.82 48.80 525.40 48.70C526.98 48.60 528.40 49.10 530.00 49.30C531.60 49.50 533.33 49.95 535.00 49.90C536.67 49.85 538.53 49.15 540.00 49.00C541.47 48.85 543.17 49.00 543.80 49.00" stroke="#c890e0" class="cv"/><path d="M410.20 53.80C410.97 53.67 413.23 53.70 414.80 53.00C416.37 52.30 418.00 50.87 419.60 49.60C421.20 48.33 422.80 46.40 424.40 45.40C426.00 44.40 427.60 43.50 429.20 43.60C430.80 43.70 432.40 45.00 434.00 46.00C435.60 47.00 437.20 48.40 438.80 49.60C440.40 50.80 442.20 52.00 443.60 53.20C445.00 54.40 446.00 55.50 447.20 56.80C448.40 58.10 449.80 60.00 450.80 61.00C451.80 62.00 452.20 62.70 453.20 62.80C454.20 62.90 455.60 62.40 456.80 61.60C458.00 60.80 459.00 59.40 460.40 58.00C461.80 56.60 463.60 54.30 465.20 53.20C466.80 52.10 468.20 51.23 470.00 51.40C471.80 51.57 474.17 53.63 476.00 54.20C477.83 54.77 479.35 54.90 481.00 54.80C482.65 54.70 484.27 54.12 485.90 53.60C487.53 53.08 489.15 52.32 490.80 51.70C492.45 51.08 494.15 50.20 495.80 49.90C497.45 49.60 499.05 49.80 500.70 49.90C502.35 50.00 504.05 50.20 505.70 50.50C507.35 50.80 508.97 51.08 510.60 51.70C512.23 52.32 513.85 53.98 515.50 54.20C517.15 54.42 518.85 53.52 520.50 53.00C522.15 52.48 523.82 51.52 525.40 51.10C526.98 50.68 528.40 50.28 530.00 50.50C531.60 50.72 533.58 51.65 535.00 52.40C536.42 53.15 537.42 53.98 538.50 55.00C539.58 56.02 540.62 57.70 541.50 58.50C542.38 59.30 543.42 59.58 543.80 59.80" stroke="#d4c050" class="cv"/><path d="M410.20 55.60C410.97 55.40 413.23 54.20 414.80 54.40C416.37 54.60 418.20 55.60 419.60 56.80C421.00 58.00 422.00 59.80 423.20 61.60C424.40 63.40 425.70 66.30 426.80 67.60C427.90 68.90 428.80 69.60 429.80 69.40C430.80 69.20 431.70 68.30 432.80 66.40C433.90 64.50 435.00 60.40 436.40 58.00C437.80 55.60 439.60 53.50 441.20 52.00C442.80 50.50 444.40 49.60 446.00 49.00C447.60 48.40 449.20 48.30 450.80 48.40C452.40 48.50 454.20 48.80 455.60 49.60C457.00 50.40 458.00 51.60 459.20 53.20C460.40 54.80 461.60 57.40 462.80 59.20C464.00 61.00 465.40 63.00 466.40 64.00C467.40 65.00 467.80 65.60 468.80 65.20C469.80 64.80 471.20 62.72 472.40 61.60C473.60 60.48 474.57 59.02 476.00 58.50C477.43 57.98 479.55 58.08 481.00 58.50C482.45 58.92 483.47 59.75 484.70 61.00C485.93 62.25 487.38 64.87 488.40 66.00C489.42 67.13 489.78 68.22 490.80 67.80C491.82 67.38 493.27 64.83 494.50 63.50C495.73 62.17 496.95 60.83 498.20 59.80C499.45 58.77 500.55 58.13 502.00 57.30C503.45 56.47 505.27 55.10 506.90 54.80C508.53 54.50 510.15 55.08 511.80 55.50C513.45 55.92 515.35 56.80 516.80 57.30C518.25 57.80 519.30 58.55 520.50 58.50C521.70 58.45 522.77 57.62 524.00 57.00C525.23 56.38 526.42 55.57 527.90 54.80C529.38 54.03 531.25 53.12 532.90 52.40C534.55 51.68 535.98 50.92 537.80 50.50C539.62 50.08 542.80 50.00 543.80 49.90" stroke="#40c8cc" class="cv"/><path d="M410.20 53.00C410.97 53.25 413.50 53.83 414.80 54.50C416.10 55.17 417.00 55.68 418.00 57.00C419.00 58.32 419.97 60.73 420.80 62.40C421.63 64.07 422.20 65.00 423.00 67.00C423.80 69.00 424.77 72.27 425.60 74.40C426.43 76.53 427.40 78.70 428.00 79.80C428.60 80.90 428.60 81.50 429.20 81.00C429.80 80.50 430.80 78.50 431.60 76.80C432.40 75.10 433.00 72.40 434.00 70.80C435.00 69.20 436.20 68.20 437.60 67.20C439.00 66.20 440.80 65.50 442.40 64.80C444.00 64.10 445.60 63.00 447.20 63.00C448.80 63.00 450.60 64.30 452.00 64.80C453.40 65.30 454.40 66.20 455.60 66.00C456.80 65.80 458.00 64.40 459.20 63.60C460.40 62.80 461.50 61.88 462.80 61.20C464.10 60.52 465.47 59.95 467.00 59.50C468.53 59.05 470.50 58.83 472.00 58.50C473.50 58.17 474.50 57.83 476.00 57.50C477.50 57.17 479.33 56.58 481.00 56.50C482.67 56.42 484.33 56.67 486.00 57.00C487.67 57.33 489.33 58.33 491.00 58.50C492.67 58.67 494.33 58.08 496.00 58.00C497.67 57.92 499.07 56.98 501.00 58.00C502.93 59.02 505.60 63.27 507.60 64.10C509.60 64.93 510.97 63.40 513.00 63.00C515.03 62.60 517.63 62.20 519.80 61.70C521.97 61.20 523.97 60.20 526.00 60.00C528.03 59.80 530.17 60.00 532.00 60.50C533.83 61.00 535.38 61.98 537.00 63.00C538.62 64.02 540.57 66.10 541.70 66.60C542.83 67.10 543.45 66.10 543.80 66.00" stroke="#a88080" class="cv"/><rect x="410.20" y="8.90" width="133.60" height="99.30" class="frame"/><line x1="408.20" y1="8.90" x2="410.20" y2="8.90" class="tk"/><line x1="409.10" y1="18.83" x2="410.20" y2="18.83" class="tk"/><line x1="408.20" y1="28.76" x2="410.20" y2="28.76" class="tk"/><line x1="409.10" y1="38.69" x2="410.20" y2="38.69" class="tk"/><line x1="408.20" y1="48.62" x2="410.20" y2="48.62" class="tk"/><line x1="409.10" y1="58.55" x2="410.20" y2="58.55" class="tk"/><line x1="408.20" y1="68.48" x2="410.20" y2="68.48" class="tk"/><line x1="409.10" y1="78.41" x2="410.20" y2="78.41" class="tk"/><line x1="408.20" y1="88.34" x2="410.20" y2="88.34" class="tk"/><line x1="409.10" y1="98.27" x2="410.20" y2="98.27" class="tk"/><line x1="408.20" y1="108.20" x2="410.20" y2="108.20" class="tk"/><line x1="410.20" y1="108.20" x2="410.20" y2="110.20" class="tk"/><line x1="423.56" y1="108.20" x2="423.56" y2="109.30" class="tk"/><line x1="436.92" y1="108.20" x2="436.92" y2="110.20" class="tk"/><line x1="450.28" y1="108.20" x2="450.28" y2="109.30" class="tk"/><line x1="463.64" y1="108.20" x2="463.64" y2="110.20" class="tk"/><line x1="477.00" y1="108.20" x2="477.00" y2="109.30" class="tk"/><line x1="490.36" y1="108.20" x2="490.36" y2="110.20" class="tk"/><line x1="503.72" y1="108.20" x2="503.72" y2="109.30" class="tk"/><line x1="517.08" y1="108.20" x2="517.08" y2="110.20" class="tk"/><line x1="530.44" y1="108.20" x2="530.44" y2="109.30" class="tk"/><line x1="543.80" y1="108.20" x2="543.80" y2="110.20" class="tk"/><text x="407.20" y="10.50" class="tl" text-anchor="end">0</text><text x="407.20" y="30.36" class="tl" text-anchor="end">-5</text><text x="407.20" y="50.22" class="tl" text-anchor="end">-10</text><text x="407.20" y="70.08" class="tl" text-anchor="end">-15</text><text x="407.20" y="89.94" class="tl" text-anchor="end">-20</text><text x="407.20" y="109.80" class="tl" text-anchor="end">-25</text><text x="410.20" y="115.10" class="tl" text-anchor="middle">20</text><text x="436.92" y="115.10" class="tl" text-anchor="middle">25</text><text x="463.64" y="115.10" class="tl" text-anchor="middle">30</text><text x="490.36" y="115.10" class="tl" text-anchor="middle">35</text><text x="517.08" y="115.10" class="tl" text-anchor="middle">40</text><text x="543.80" y="115.10" class="tl" text-anchor="middle">45</text><text x="455.70" y="123.40" class="at ft" textLength="43.4" lengthAdjust="spacingAndGlyphs">Frequency (GHz)</text><text transform="translate(397.90 58.55) rotate(-90)" class="at" text-anchor="middle" textLength="75.5" lengthAdjust="spacingAndGlyphs">Simmulated Insertion losses (dB)</text><rect x="418.40" y="16.90" width="116.00" height="13.2" class="leg"/><line x1="419.20" y1="20.10" x2="431.00" y2="20.10" stroke="#acacac" class="ll"/><text x="432.70" y="22.10" class="lt">S6,3</text><line x1="448.20" y1="20.10" x2="460.00" y2="20.10" stroke="#f09da7" class="ll"/><text x="461.70" y="22.10" class="lt">S7,3</text><line x1="477.20" y1="20.10" x2="489.00" y2="20.10" stroke="#94b3e6" class="ll"/><text x="490.70" y="22.10" class="lt">S8,3</text><line x1="506.20" y1="20.10" x2="518.00" y2="20.10" stroke="#95d6bd" class="ll"/><text x="519.70" y="22.10" class="lt">S9,3</text><line x1="419.20" y1="26.40" x2="431.00" y2="26.40" stroke="#dbb7eb" class="ll"/><text x="432.70" y="28.40" class="lt">S10,3</text><line x1="448.20" y1="26.40" x2="460.00" y2="26.40" stroke="#e3d68d" class="ll"/><text x="461.70" y="28.40" class="lt">S11,3</text><line x1="477.20" y1="26.40" x2="489.00" y2="26.40" stroke="#83dbde" class="ll"/><text x="490.70" y="28.40" class="lt">S12,3</text><line x1="506.20" y1="26.40" x2="518.00" y2="26.40" stroke="#c6acac" class="ll"/><text x="519.70" y="28.40" class="lt">S13,3</text><text x="464.90" y="148.20" class="cap" textLength="18.13" lengthAdjust="spacingAndGlyphs"><tspan font-weight="bold" font-size="12.3px">1</tspan><tspan class="pn">(</tspan><tspan font-weight="bold" font-size="10.6px">c</tspan><tspan class="pn">)</tspan></text></g><g><line x1="45.22" y1="167.30" x2="45.22" y2="268.20" class="grid"/><line x1="71.34" y1="167.30" x2="71.34" y2="268.20" class="grid"/><line x1="97.46" y1="167.30" x2="97.46" y2="268.20" class="grid"/><line x1="123.58" y1="167.30" x2="123.58" y2="268.20" class="grid"/><line x1="19.10" y1="187.48" x2="149.70" y2="187.48" class="grid"/><line x1="19.10" y1="207.66" x2="149.70" y2="207.66" class="grid"/><line x1="19.10" y1="227.84" x2="149.70" y2="227.84" class="grid"/><line x1="19.10" y1="248.02" x2="149.70" y2="248.02" class="grid"/><path d="M19.10 237.00C19.75 236.87 21.68 236.45 23.00 236.20C24.32 235.95 25.67 235.70 27.00 235.50C28.33 235.30 29.67 235.12 31.00 235.00C32.33 234.88 33.75 234.77 35.00 234.80C36.25 234.83 37.37 234.92 38.50 235.20C39.63 235.48 40.63 235.77 41.80 236.50C42.97 237.23 44.30 238.32 45.50 239.60C46.70 240.88 47.80 242.83 49.00 244.20C50.20 245.57 51.47 246.92 52.70 247.80C53.93 248.68 55.18 249.50 56.40 249.50C57.62 249.50 58.80 248.68 60.00 247.80C61.20 246.92 62.53 245.42 63.60 244.20C64.67 242.98 65.63 241.33 66.40 240.50C67.17 239.67 67.45 239.28 68.20 239.20C68.95 239.12 69.85 239.47 70.90 240.00C71.95 240.53 73.43 241.73 74.50 242.40C75.57 243.07 76.38 243.70 77.30 244.00C78.22 244.30 79.05 244.30 80.00 244.20C80.95 244.10 82.17 243.57 83.00 243.40C83.83 243.23 84.07 243.03 85.00 243.20C85.93 243.37 87.40 243.63 88.60 244.40C89.80 245.17 91.05 247.70 92.20 247.80C93.35 247.90 94.30 245.87 95.50 245.00C96.70 244.13 98.15 242.68 99.40 242.60C100.65 242.52 101.80 243.53 103.00 244.50C104.20 245.47 105.43 248.15 106.60 248.40C107.77 248.65 108.80 246.77 110.00 246.00C111.20 245.23 112.57 244.67 113.80 243.80C115.03 242.93 116.20 241.60 117.40 240.80C118.60 240.00 119.80 239.40 121.00 239.00C122.20 238.60 123.40 238.40 124.60 238.40C125.80 238.40 127.00 238.50 128.20 239.00C129.40 239.50 130.60 240.40 131.80 241.40C133.00 242.40 134.20 244.00 135.40 245.00C136.60 246.00 137.80 247.10 139.00 247.40C140.20 247.70 141.40 247.20 142.60 246.80C143.80 246.40 145.02 245.60 146.20 245.00C147.38 244.40 149.12 243.50 149.70 243.20" stroke="#808080" class="cv"/><path d="M19.10 230.00C19.68 230.33 21.42 231.10 22.60 232.00C23.78 232.90 25.00 234.43 26.20 235.40C27.40 236.37 28.60 237.62 29.80 237.80C31.00 237.98 32.00 237.05 33.40 236.50C34.80 235.95 36.60 235.00 38.20 234.50C39.80 234.00 41.40 233.55 43.00 233.50C44.60 233.45 46.20 233.87 47.80 234.20C49.40 234.53 51.00 235.20 52.60 235.50C54.20 235.80 55.80 236.08 57.40 236.00C59.00 235.92 60.60 235.70 62.20 235.00C63.80 234.30 65.60 233.13 67.00 231.80C68.40 230.47 69.40 227.90 70.60 227.00C71.80 226.10 72.80 226.20 74.20 226.40C75.60 226.60 77.40 227.43 79.00 228.20C80.60 228.97 82.47 230.62 83.80 231.00C85.13 231.38 85.88 230.83 87.00 230.50C88.12 230.17 89.23 229.38 90.50 229.00C91.77 228.62 93.18 228.20 94.60 228.20C96.02 228.20 97.60 228.53 99.00 229.00C100.40 229.47 101.83 230.33 103.00 231.00C104.17 231.67 105.00 232.37 106.00 233.00C107.00 233.63 107.90 234.00 109.00 234.80C110.10 235.60 111.40 236.90 112.60 237.80C113.80 238.70 115.00 239.92 116.20 240.20C117.40 240.48 118.60 239.80 119.80 239.50C121.00 239.20 122.00 238.88 123.40 238.40C124.80 237.92 126.60 236.75 128.20 236.60C129.80 236.45 131.40 237.10 133.00 237.50C134.60 237.90 136.20 238.55 137.80 239.00C139.40 239.45 141.23 239.90 142.60 240.20C143.97 240.50 144.82 240.70 146.00 240.80C147.18 240.90 149.08 240.80 149.70 240.80" stroke="#e86878" class="cv"/><path d="M19.10 237.20C19.88 237.10 22.22 236.67 23.80 236.60C25.38 236.53 27.00 236.93 28.60 236.80C30.20 236.67 31.80 236.17 33.40 235.80C35.00 235.43 36.60 234.97 38.20 234.60C39.80 234.23 41.40 233.97 43.00 233.60C44.60 233.23 46.20 232.50 47.80 232.40C49.40 232.30 51.00 232.50 52.60 233.00C54.20 233.50 56.00 234.80 57.40 235.40C58.80 236.00 59.80 236.60 61.00 236.60C62.20 236.60 63.40 236.00 64.60 235.40C65.80 234.80 67.00 233.60 68.20 233.00C69.40 232.40 70.60 231.90 71.80 231.80C73.00 231.70 74.20 232.37 75.40 232.40C76.60 232.43 77.90 232.23 79.00 232.00C80.10 231.77 81.00 231.33 82.00 231.00C83.00 230.67 83.70 229.58 85.00 230.00C86.30 230.42 88.20 232.20 89.80 233.50C91.40 234.80 93.20 236.98 94.60 237.80C96.00 238.62 97.00 238.62 98.20 238.40C99.40 238.18 100.60 237.40 101.80 236.50C103.00 235.60 104.20 233.92 105.40 233.00C106.60 232.08 107.60 231.60 109.00 231.00C110.40 230.40 112.20 229.57 113.80 229.40C115.40 229.23 117.00 229.70 118.60 230.00C120.20 230.30 121.80 230.95 123.40 231.20C125.00 231.45 126.60 231.60 128.20 231.50C129.80 231.40 131.40 230.95 133.00 230.60C134.60 230.25 136.20 229.50 137.80 229.40C139.40 229.30 141.20 229.60 142.60 230.00C144.00 230.40 145.02 231.10 146.20 231.80C147.38 232.50 149.12 233.80 149.70 234.20" stroke="#5a8ad8" class="cv"/><path d="M19.10 228.20C19.88 228.00 22.22 227.30 23.80 227.00C25.38 226.70 27.00 226.40 28.60 226.40C30.20 226.40 31.80 226.70 33.40 227.00C35.00 227.30 36.60 227.60 38.20 228.20C39.80 228.80 41.40 229.80 43.00 230.60C44.60 231.40 46.20 232.40 47.80 233.00C49.40 233.60 51.00 234.20 52.60 234.20C54.20 234.20 55.80 233.60 57.40 233.00C59.00 232.40 60.60 231.20 62.20 230.60C63.80 230.00 65.40 229.30 67.00 229.40C68.60 229.50 70.20 230.60 71.80 231.20C73.40 231.80 75.00 232.70 76.60 233.00C78.20 233.30 80.00 233.40 81.40 233.00C82.80 232.60 83.40 231.13 85.00 230.60C86.60 230.07 89.00 230.07 91.00 229.80C93.00 229.53 95.33 229.67 97.00 229.00C98.67 228.33 99.33 226.83 101.00 225.80C102.67 224.77 105.20 223.60 107.00 222.80C108.80 222.00 110.20 221.20 111.80 221.00C113.40 220.80 115.00 221.00 116.60 221.60C118.20 222.20 119.47 223.50 121.40 224.60C123.33 225.70 126.27 227.20 128.20 228.20C130.13 229.20 131.40 230.20 133.00 230.60C134.60 231.00 136.20 230.90 137.80 230.60C139.40 230.30 141.00 229.30 142.60 228.80C144.20 228.30 146.22 227.73 147.40 227.60C148.58 227.47 149.32 227.93 149.70 228.00" stroke="#5cc09a" class="cv"/><path d="M19.10 234.20C19.88 233.60 22.22 232.00 23.80 230.60C25.38 229.20 27.00 227.30 28.60 225.80C30.20 224.30 31.80 222.57 33.40 221.60C35.00 220.63 36.60 219.90 38.20 220.00C39.80 220.10 41.40 221.03 43.00 222.20C44.60 223.37 46.20 225.40 47.80 227.00C49.40 228.60 51.00 230.60 52.60 231.80C54.20 233.00 55.80 234.00 57.40 234.20C59.00 234.40 60.60 234.20 62.20 233.00C63.80 231.80 65.60 228.20 67.00 227.00C68.40 225.80 69.20 225.80 70.60 225.80C72.00 225.80 73.80 226.40 75.40 227.00C77.00 227.60 78.60 229.40 80.20 229.40C81.80 229.40 83.40 227.70 85.00 227.00C86.60 226.30 88.20 225.70 89.80 225.20C91.40 224.70 92.80 224.30 94.60 224.00C96.40 223.70 99.00 223.10 100.60 223.40C102.20 223.70 103.00 224.80 104.20 225.80C105.40 226.80 106.60 228.20 107.80 229.40C109.00 230.60 110.20 232.23 111.40 233.00C112.60 233.77 113.80 234.20 115.00 234.00C116.20 233.80 117.40 232.97 118.60 231.80C119.80 230.63 121.00 228.20 122.20 227.00C123.40 225.80 124.60 225.20 125.80 224.60C127.00 224.00 128.20 223.40 129.40 223.40C130.60 223.40 131.80 223.80 133.00 224.60C134.20 225.40 135.40 227.00 136.60 228.20C137.80 229.40 138.97 230.83 140.20 231.80C141.43 232.77 142.80 233.80 144.00 234.00C145.20 234.20 146.45 233.33 147.40 233.00C148.35 232.67 149.32 232.17 149.70 232.00" stroke="#c890e0" class="cv"/><path d="M19.10 230.60C19.68 231.00 21.42 232.00 22.60 233.00C23.78 234.00 24.80 235.60 26.20 236.60C27.60 237.60 29.60 238.40 31.00 239.00C32.40 239.60 33.40 240.20 34.60 240.20C35.80 240.20 36.80 239.80 38.20 239.00C39.60 238.20 41.40 236.40 43.00 235.40C44.60 234.40 46.20 233.60 47.80 233.00C49.40 232.40 51.00 231.90 52.60 231.80C54.20 231.70 55.80 232.20 57.40 232.40C59.00 232.60 60.60 233.30 62.20 233.00C63.80 232.70 65.40 231.40 67.00 230.60C68.60 229.80 70.20 228.80 71.80 228.20C73.40 227.60 75.00 227.30 76.60 227.00C78.20 226.70 80.00 226.00 81.40 226.40C82.80 226.80 83.60 228.55 85.00 229.40C86.40 230.25 88.20 230.80 89.80 231.50C91.40 232.20 93.20 233.43 94.60 233.60C96.00 233.77 97.00 233.00 98.20 232.50C99.40 232.00 100.60 231.32 101.80 230.60C103.00 229.88 104.20 228.70 105.40 228.20C106.60 227.70 107.60 227.40 109.00 227.60C110.40 227.80 112.40 228.50 113.80 229.40C115.20 230.30 116.20 231.90 117.40 233.00C118.60 234.10 119.80 235.58 121.00 236.00C122.20 236.42 123.40 236.00 124.60 235.50C125.80 235.00 127.00 234.02 128.20 233.00C129.40 231.98 130.60 230.30 131.80 229.40C133.00 228.50 134.20 227.80 135.40 227.60C136.60 227.40 137.80 227.50 139.00 228.20C140.20 228.90 141.40 230.40 142.60 231.80C143.80 233.20 145.20 235.20 146.20 236.60C147.20 238.00 148.02 239.47 148.60 240.20C149.18 240.93 149.52 240.87 149.70 241.00" stroke="#d4c050" class="cv"/><path d="M19.10 236.60C19.88 236.70 22.22 237.20 23.80 237.20C25.38 237.20 27.00 236.80 28.60 236.60C30.20 236.40 31.80 236.30 33.40 236.00C35.00 235.70 36.60 235.30 38.20 234.80C39.80 234.30 41.40 233.90 43.00 233.00C44.60 232.10 46.40 230.60 47.80 229.40C49.20 228.20 50.20 226.80 51.40 225.80C52.60 224.80 53.80 223.60 55.00 223.40C56.20 223.20 57.40 223.80 58.60 224.60C59.80 225.40 61.00 226.80 62.20 228.20C63.40 229.60 64.60 231.40 65.80 233.00C67.00 234.60 68.20 236.60 69.40 237.80C70.60 239.00 71.80 240.00 73.00 240.20C74.20 240.40 75.40 240.00 76.60 239.00C77.80 238.00 78.80 235.40 80.20 234.20C81.60 233.00 83.40 231.60 85.00 231.80C86.60 232.00 88.20 234.30 89.80 235.40C91.40 236.50 93.20 237.70 94.60 238.40C96.00 239.10 97.00 239.70 98.20 239.60C99.40 239.50 100.60 238.70 101.80 237.80C103.00 236.90 104.20 235.40 105.40 234.20C106.60 233.00 107.60 231.60 109.00 230.60C110.40 229.60 112.20 228.30 113.80 228.20C115.40 228.10 117.00 229.20 118.60 230.00C120.20 230.80 121.80 232.30 123.40 233.00C125.00 233.70 126.60 234.20 128.20 234.20C129.80 234.20 131.40 233.40 133.00 233.00C134.60 232.60 136.20 232.40 137.80 231.80C139.40 231.20 141.20 229.53 142.60 229.40C144.00 229.27 145.02 230.40 146.20 231.00C147.38 231.60 149.12 232.67 149.70 233.00" stroke="#40c8cc" class="cv"/><path d="M19.10 243.00C19.68 242.90 21.42 242.90 22.60 242.40C23.78 241.90 24.80 240.90 26.20 240.00C27.60 239.10 29.70 238.00 31.00 237.00C32.30 236.00 32.95 234.70 34.00 234.00C35.05 233.30 36.30 232.63 37.30 232.80C38.30 232.97 39.10 233.72 40.00 235.00C40.90 236.28 41.78 238.52 42.70 240.50C43.62 242.48 44.73 245.45 45.50 246.90C46.27 248.35 46.63 249.05 47.30 249.20C47.97 249.35 48.75 248.63 49.50 247.80C50.25 246.97 51.12 245.42 51.80 244.20C52.48 242.98 52.90 241.50 53.60 240.50C54.30 239.50 55.10 238.87 56.00 238.20C56.90 237.53 57.83 236.95 59.00 236.50C60.17 236.05 61.67 235.83 63.00 235.50C64.33 235.17 65.50 234.92 67.00 234.50C68.50 234.08 70.33 233.58 72.00 233.00C73.67 232.42 75.33 231.50 77.00 231.00C78.67 230.50 80.17 230.50 82.00 230.00C83.83 229.50 86.00 228.42 88.00 228.00C90.00 227.58 92.00 227.50 94.00 227.50C96.00 227.50 98.00 227.58 100.00 228.00C102.00 228.42 104.00 229.42 106.00 230.00C108.00 230.58 110.00 231.33 112.00 231.50C114.00 231.67 116.00 231.25 118.00 231.00C120.00 230.75 122.00 230.00 124.00 230.00C126.00 230.00 128.00 230.50 130.00 231.00C132.00 231.50 134.00 232.50 136.00 233.00C138.00 233.50 139.72 234.00 142.00 234.00C144.28 234.00 148.42 233.17 149.70 233.00" stroke="#a88080" class="cv"/><rect x="19.10" y="167.30" width="130.60" height="100.90" class="frame"/><line x1="17.10" y1="167.30" x2="19.10" y2="167.30" class="tk"/><line x1="18.00" y1="177.39" x2="19.10" y2="177.39" class="tk"/><line x1="17.10" y1="187.48" x2="19.10" y2="187.48" class="tk"/><line x1="18.00" y1="197.57" x2="19.10" y2="197.57" class="tk"/><line x1="17.10" y1="207.66" x2="19.10" y2="207.66" class="tk"/><line x1="18.00" y1="217.75" x2="19.10" y2="217.75" class="tk"/><line x1="17.10" y1="227.84" x2="19.10" y2="227.84" class="tk"/><line x1="18.00" y1="237.93" x2="19.10" y2="237.93" class="tk"/><line x1="17.10" y1="248.02" x2="19.10" y2="248.02" class="tk"/><line x1="18.00" y1="258.11" x2="19.10" y2="258.11" class="tk"/><line x1="17.10" y1="268.20" x2="19.10" y2="268.20" class="tk"/><line x1="19.10" y1="268.20" x2="19.10" y2="270.20" class="tk"/><line x1="32.16" y1="268.20" x2="32.16" y2="269.30" class="tk"/><line x1="45.22" y1="268.20" x2="45.22" y2="270.20" class="tk"/><line x1="58.28" y1="268.20" x2="58.28" y2="269.30" class="tk"/><line x1="71.34" y1="268.20" x2="71.34" y2="270.20" class="tk"/><line x1="84.40" y1="268.20" x2="84.40" y2="269.30" class="tk"/><line x1="97.46" y1="268.20" x2="97.46" y2="270.20" class="tk"/><line x1="110.52" y1="268.20" x2="110.52" y2="269.30" class="tk"/><line x1="123.58" y1="268.20" x2="123.58" y2="270.20" class="tk"/><line x1="136.64" y1="268.20" x2="136.64" y2="269.30" class="tk"/><line x1="149.70" y1="268.20" x2="149.70" y2="270.20" class="tk"/><text x="16.10" y="168.90" class="tl" text-anchor="end">0</text><text x="16.10" y="189.08" class="tl" text-anchor="end">-5</text><text x="16.10" y="209.26" class="tl" text-anchor="end">-10</text><text x="16.10" y="229.44" class="tl" text-anchor="end">-15</text><text x="16.10" y="249.62" class="tl" text-anchor="end">-20</text><text x="16.10" y="269.80" class="tl" text-anchor="end">-25</text><text x="19.10" y="275.50" class="tl" text-anchor="middle">20</text><text x="45.22" y="275.50" class="tl" text-anchor="middle">25</text><text x="71.34" y="275.50" class="tl" text-anchor="middle">30</text><text x="97.46" y="275.50" class="tl" text-anchor="middle">35</text><text x="123.58" y="275.50" class="tl" text-anchor="middle">40</text><text x="149.70" y="275.50" class="tl" text-anchor="middle">45</text><text x="63.90" y="283.80" class="at ft" textLength="42.1" lengthAdjust="spacingAndGlyphs">Frequency (GHz)</text><text transform="translate(7.30 217.75) rotate(-90)" class="at" text-anchor="middle" textLength="76.7" lengthAdjust="spacingAndGlyphs">Simmulated Insertion losses (dB)</text><rect x="27.30" y="175.30" width="113.00" height="13.2" class="leg"/><line x1="28.10" y1="178.50" x2="39.90" y2="178.50" stroke="#acacac" class="ll"/><text x="41.60" y="180.50" class="lt">S6,1</text><line x1="56.35" y1="178.50" x2="68.15" y2="178.50" stroke="#f09da7" class="ll"/><text x="69.85" y="180.50" class="lt">S7,1</text><line x1="84.60" y1="178.50" x2="96.40" y2="178.50" stroke="#94b3e6" class="ll"/><text x="98.10" y="180.50" class="lt">S8,1</text><line x1="112.85" y1="178.50" x2="124.65" y2="178.50" stroke="#95d6bd" class="ll"/><text x="126.35" y="180.50" class="lt">S9,1</text><line x1="28.10" y1="184.80" x2="39.90" y2="184.80" stroke="#dbb7eb" class="ll"/><text x="41.60" y="186.80" class="lt">S10,1</text><line x1="56.35" y1="184.80" x2="68.15" y2="184.80" stroke="#e3d68d" class="ll"/><text x="69.85" y="186.80" class="lt">S11,1</text><line x1="84.60" y1="184.80" x2="96.40" y2="184.80" stroke="#83dbde" class="ll"/><text x="98.10" y="186.80" class="lt">S12,1</text><line x1="112.85" y1="184.80" x2="124.65" y2="184.80" stroke="#c6acac" class="ll"/><text x="126.35" y="186.80" class="lt">S13,1</text><text x="71.40" y="304.40" class="cap" textLength="18.87" lengthAdjust="spacingAndGlyphs"><tspan font-weight="bold" font-size="12.3px">2</tspan><tspan class="pn">(</tspan><tspan font-weight="bold" font-size="10.6px">a</tspan><tspan class="pn">)</tspan></text></g><g><line x1="241.38" y1="167.50" x2="241.38" y2="268.40" class="grid"/><line x1="266.56" y1="167.50" x2="266.56" y2="268.40" class="grid"/><line x1="291.74" y1="167.50" x2="291.74" y2="268.40" class="grid"/><line x1="316.92" y1="167.50" x2="316.92" y2="268.40" class="grid"/><line x1="216.20" y1="187.68" x2="342.10" y2="187.68" class="grid"/><line x1="216.20" y1="207.86" x2="342.10" y2="207.86" class="grid"/><line x1="216.20" y1="228.04" x2="342.10" y2="228.04" class="grid"/><line x1="216.20" y1="248.22" x2="342.10" y2="248.22" class="grid"/><path d="M216.20 238.30C216.77 238.90 218.43 240.60 219.60 241.90C220.77 243.20 222.12 245.20 223.20 246.10C224.28 247.00 225.12 247.40 226.10 247.30C227.08 247.20 228.00 246.60 229.10 245.50C230.20 244.40 231.50 242.12 232.70 240.70C233.90 239.28 235.10 237.87 236.30 237.00C237.50 236.13 238.70 235.83 239.90 235.50C241.10 235.17 242.32 234.83 243.50 235.00C244.68 235.17 245.62 235.75 247.00 236.50C248.38 237.25 250.40 238.40 251.80 239.50C253.20 240.60 254.20 242.20 255.40 243.10C256.60 244.00 257.60 244.50 259.00 244.90C260.40 245.30 262.42 245.30 263.80 245.50C265.18 245.70 266.12 245.70 267.30 246.10C268.48 246.50 269.90 247.22 270.90 247.90C271.90 248.58 272.45 249.18 273.30 250.20C274.15 251.22 275.05 252.78 276.00 254.00C276.95 255.22 278.03 256.65 279.00 257.50C279.97 258.35 280.85 259.30 281.80 259.10C282.75 258.90 283.75 257.48 284.70 256.30C285.65 255.12 286.32 253.30 287.50 252.00C288.68 250.70 290.15 249.25 291.80 248.50C293.45 247.75 295.28 247.73 297.40 247.50C299.52 247.27 302.13 247.17 304.50 247.10C306.87 247.03 309.23 246.98 311.60 247.10C313.97 247.22 316.57 247.50 318.70 247.80C320.83 248.10 322.75 248.55 324.40 248.90C326.05 249.25 327.18 249.97 328.60 249.90C330.02 249.83 331.47 249.32 332.90 248.50C334.33 247.68 335.67 246.25 337.20 245.00C338.73 243.75 341.28 241.67 342.10 241.00" stroke="#808080" class="cv"/><path d="M216.20 228.70C216.77 228.12 218.23 226.08 219.60 225.20C220.97 224.32 222.82 223.40 224.40 223.40C225.98 223.40 227.72 224.12 229.10 225.20C230.48 226.28 231.50 228.12 232.70 229.90C233.90 231.68 235.10 234.38 236.30 235.90C237.50 237.42 238.78 238.57 239.90 239.00C241.02 239.43 241.82 239.02 243.00 238.50C244.18 237.98 245.67 236.57 247.00 235.90C248.33 235.23 249.67 234.57 251.00 234.50C252.33 234.43 253.67 235.07 255.00 235.50C256.33 235.93 257.53 236.73 259.00 237.10C260.47 237.47 262.22 237.90 263.80 237.70C265.38 237.50 267.12 236.80 268.50 235.90C269.88 235.00 270.90 233.50 272.10 232.30C273.30 231.10 274.55 229.78 275.70 228.70C276.85 227.62 277.78 226.20 279.00 225.80C280.22 225.40 281.58 225.95 283.00 226.30C284.42 226.65 285.80 227.15 287.50 227.90C289.20 228.65 291.30 229.85 293.20 230.80C295.10 231.75 297.10 233.15 298.90 233.60C300.70 234.05 302.32 233.63 304.00 233.50C305.68 233.37 307.17 232.80 309.00 232.80C310.83 232.80 312.90 233.13 315.00 233.50C317.10 233.87 319.57 234.52 321.60 235.00C323.63 235.48 325.32 235.92 327.20 236.40C329.08 236.88 331.00 237.42 332.90 237.90C334.80 238.38 337.07 238.83 338.60 239.30C340.13 239.77 341.52 240.47 342.10 240.70" stroke="#e86878" class="cv"/><path d="M216.20 227.60C216.77 227.98 218.47 229.33 219.60 229.90C220.73 230.47 221.85 230.98 223.00 231.00C224.15 231.02 225.33 230.42 226.50 230.00C227.67 229.58 228.77 228.82 230.00 228.50C231.23 228.18 232.65 228.05 233.90 228.10C235.15 228.15 236.30 228.50 237.50 228.80C238.70 229.10 239.90 229.12 241.10 229.90C242.30 230.68 243.52 232.30 244.70 233.50C245.88 234.70 247.02 236.20 248.20 237.10C249.38 238.00 250.58 238.75 251.80 238.90C253.02 239.05 254.22 238.57 255.50 238.00C256.78 237.43 258.12 236.25 259.50 235.50C260.88 234.75 262.30 234.23 263.80 233.50C265.30 232.77 266.97 231.60 268.50 231.10C270.03 230.60 271.25 230.35 273.00 230.50C274.75 230.65 277.05 231.72 279.00 232.00C280.95 232.28 282.82 232.17 284.70 232.20C286.58 232.23 288.67 231.90 290.30 232.20C291.93 232.50 293.07 233.05 294.50 234.00C295.93 234.95 297.47 236.32 298.90 237.90C300.33 239.48 301.68 241.97 303.10 243.50C304.52 245.03 305.98 246.85 307.40 247.10C308.82 247.35 310.18 246.30 311.60 245.00C313.02 243.70 314.72 240.48 315.90 239.30C317.08 238.12 317.60 237.78 318.70 237.90C319.80 238.02 321.08 239.07 322.50 240.00C323.92 240.93 325.70 242.20 327.20 243.50C328.70 244.80 330.08 247.43 331.50 247.80C332.92 248.17 334.28 246.65 335.70 245.70C337.12 244.75 338.93 243.05 340.00 242.10C341.07 241.15 341.75 240.35 342.10 240.00" stroke="#5a8ad8" class="cv"/><path d="M216.20 224.60C216.97 224.50 219.23 224.00 220.80 224.00C222.37 224.00 224.22 224.00 225.60 224.60C226.98 225.20 227.92 226.32 229.10 227.60C230.28 228.88 231.50 230.52 232.70 232.30C233.90 234.08 235.10 236.50 236.30 238.30C237.50 240.10 238.70 242.90 239.90 243.10C241.10 243.30 242.50 240.90 243.50 239.50C244.50 238.10 244.98 236.12 245.90 234.70C246.82 233.28 247.82 231.95 249.00 231.00C250.18 230.05 251.50 229.42 253.00 229.00C254.50 228.58 256.33 228.50 258.00 228.50C259.67 228.50 261.33 228.83 263.00 229.00C264.67 229.17 266.33 229.67 268.00 229.50C269.67 229.33 271.17 228.73 273.00 228.00C274.83 227.27 276.83 225.52 279.00 225.10C281.17 224.68 283.63 225.27 286.00 225.50C288.37 225.73 290.82 225.87 293.20 226.50C295.58 227.13 297.93 229.07 300.30 229.30C302.67 229.53 305.12 228.45 307.40 227.90C309.68 227.35 311.90 226.65 314.00 226.00C316.10 225.35 318.03 224.62 320.00 224.00C321.97 223.38 323.88 222.72 325.80 222.30C327.72 221.88 329.60 221.50 331.50 221.50C333.40 221.50 335.43 221.93 337.20 222.30C338.97 222.67 341.28 223.47 342.10 223.70" stroke="#5cc09a" class="cv"/><path d="M216.20 231.10C216.77 231.90 218.43 234.10 219.60 235.90C220.77 237.70 222.20 240.60 223.20 241.90C224.20 243.20 224.62 243.90 225.60 243.70C226.58 243.50 227.92 242.20 229.10 240.70C230.28 239.20 231.30 236.30 232.70 234.70C234.10 233.10 235.95 231.88 237.50 231.10C239.05 230.32 240.42 230.18 242.00 230.00C243.58 229.82 245.33 230.08 247.00 230.00C248.67 229.92 250.40 229.72 252.00 229.50C253.60 229.28 255.03 229.42 256.60 228.70C258.17 227.98 259.82 226.08 261.40 225.20C262.98 224.32 264.52 223.40 266.10 223.40C267.68 223.40 269.30 224.32 270.90 225.20C272.50 226.08 274.30 227.52 275.70 228.70C277.10 229.88 278.03 231.42 279.30 232.30C280.57 233.18 281.85 233.80 283.30 234.00C284.75 234.20 286.38 233.75 288.00 233.50C289.62 233.25 291.33 232.83 293.00 232.50C294.67 232.17 296.32 231.90 298.00 231.50C299.68 231.10 301.53 230.93 303.10 230.10C304.67 229.27 305.98 227.80 307.40 226.50C308.82 225.20 310.18 223.37 311.60 222.30C313.02 221.23 314.48 220.35 315.90 220.10C317.32 219.85 318.68 220.08 320.10 220.80C321.52 221.52 322.98 222.98 324.40 224.40C325.82 225.82 327.18 227.88 328.60 229.30C330.02 230.72 331.47 232.53 332.90 232.90C334.33 233.27 335.67 232.40 337.20 231.50C338.73 230.60 341.28 228.17 342.10 227.50" stroke="#c890e0" class="cv"/><path d="M216.20 229.90C216.92 229.75 218.93 229.30 220.50 229.00C222.07 228.70 224.02 228.27 225.60 228.10C227.18 227.93 228.42 228.08 230.00 228.00C231.58 227.92 233.45 227.77 235.10 227.60C236.75 227.43 238.30 227.20 239.90 227.00C241.50 226.80 243.32 226.40 244.70 226.40C246.08 226.40 246.98 226.65 248.20 227.00C249.42 227.35 250.60 228.02 252.00 228.50C253.40 228.98 255.03 229.47 256.60 229.90C258.17 230.33 259.82 230.80 261.40 231.10C262.98 231.40 264.50 231.75 266.10 231.70C267.70 231.65 269.43 231.08 271.00 230.80C272.57 230.52 274.17 230.00 275.50 230.00C276.83 230.00 277.47 229.97 279.00 230.80C280.53 231.63 283.05 233.70 284.70 235.00C286.35 236.30 287.52 238.18 288.90 238.60C290.28 239.02 291.58 238.33 293.00 237.50C294.42 236.67 295.98 234.60 297.40 233.60C298.82 232.60 300.07 231.80 301.50 231.50C302.93 231.20 304.25 231.47 306.00 231.80C307.75 232.13 309.88 232.73 312.00 233.50C314.12 234.27 316.63 235.55 318.70 236.40C320.77 237.25 322.50 237.88 324.40 238.60C326.30 239.32 328.17 240.35 330.10 240.70C332.03 241.05 334.00 240.98 336.00 240.70C338.00 240.42 341.08 239.28 342.10 239.00" stroke="#d4c050" class="cv"/><path d="M216.20 234.70C216.77 234.30 218.38 233.17 219.60 232.30C220.82 231.43 222.12 230.48 223.50 229.50C224.88 228.52 226.37 227.22 227.90 226.40C229.43 225.58 231.10 224.78 232.70 224.60C234.30 224.42 235.90 224.90 237.50 225.30C239.10 225.70 240.72 226.23 242.30 227.00C243.88 227.77 245.62 228.82 247.00 229.90C248.38 230.98 249.40 232.50 250.60 233.50C251.80 234.50 252.88 235.65 254.20 235.90C255.52 236.15 257.03 235.40 258.50 235.00C259.97 234.60 261.42 233.83 263.00 233.50C264.58 233.17 266.28 232.90 268.00 233.00C269.72 233.10 271.97 234.02 273.30 234.10C274.63 234.18 275.05 233.58 276.00 233.50C276.95 233.42 277.78 234.30 279.00 233.60C280.22 232.90 281.65 230.48 283.30 229.30C284.95 228.12 287.03 226.63 288.90 226.50C290.77 226.37 292.60 227.43 294.50 228.50C296.40 229.57 298.38 231.93 300.30 232.90C302.22 233.87 304.12 234.42 306.00 234.30C307.88 234.18 309.72 232.67 311.60 232.20C313.48 231.73 315.40 231.27 317.30 231.50C319.20 231.73 321.35 232.30 323.00 233.60C324.65 234.90 325.78 237.17 327.20 239.30C328.62 241.43 330.32 244.98 331.50 246.40C332.68 247.82 333.12 248.28 334.30 247.80C335.48 247.32 337.30 244.97 338.60 243.50C339.90 242.03 341.52 239.75 342.10 239.00" stroke="#40c8cc" class="cv"/><path d="M216.20 233.50C216.92 233.92 218.93 235.00 220.50 236.00C222.07 237.00 224.17 238.12 225.60 239.50C227.03 240.88 227.92 243.30 229.10 244.30C230.28 245.30 231.50 245.90 232.70 245.50C233.90 245.10 235.10 243.30 236.30 241.90C237.50 240.50 238.70 238.50 239.90 237.10C241.10 235.70 242.15 234.27 243.50 233.50C244.85 232.73 246.42 232.42 248.00 232.50C249.58 232.58 251.33 233.33 253.00 234.00C254.67 234.67 256.33 235.92 258.00 236.50C259.67 237.08 261.33 237.50 263.00 237.50C264.67 237.50 266.33 237.25 268.00 236.50C269.67 235.75 271.33 234.17 273.00 233.00C274.67 231.83 276.33 230.42 278.00 229.50C279.67 228.58 281.33 227.67 283.00 227.50C284.67 227.33 286.50 227.92 288.00 228.50C289.50 229.08 290.67 230.15 292.00 231.00C293.33 231.85 294.38 232.45 296.00 233.60C297.62 234.75 300.03 237.07 301.70 237.90C303.37 238.73 304.53 238.83 306.00 238.60C307.47 238.37 308.85 237.35 310.50 236.50C312.15 235.65 314.15 233.92 315.90 233.50C317.65 233.08 319.15 233.67 321.00 234.00C322.85 234.33 325.00 234.92 327.00 235.50C329.00 236.08 331.17 236.92 333.00 237.50C334.83 238.08 336.48 238.58 338.00 239.00C339.52 239.42 341.42 239.83 342.10 240.00" stroke="#a88080" class="cv"/><rect x="216.20" y="167.50" width="125.90" height="100.90" class="frame"/><line x1="214.20" y1="167.50" x2="216.20" y2="167.50" class="tk"/><line x1="215.10" y1="177.59" x2="216.20" y2="177.59" class="tk"/><line x1="214.20" y1="187.68" x2="216.20" y2="187.68" class="tk"/><line x1="215.10" y1="197.77" x2="216.20" y2="197.77" class="tk"/><line x1="214.20" y1="207.86" x2="216.20" y2="207.86" class="tk"/><line x1="215.10" y1="217.95" x2="216.20" y2="217.95" class="tk"/><line x1="214.20" y1="228.04" x2="216.20" y2="228.04" class="tk"/><line x1="215.10" y1="238.13" x2="216.20" y2="238.13" class="tk"/><line x1="214.20" y1="248.22" x2="216.20" y2="248.22" class="tk"/><line x1="215.10" y1="258.31" x2="216.20" y2="258.31" class="tk"/><line x1="214.20" y1="268.40" x2="216.20" y2="268.40" class="tk"/><line x1="216.20" y1="268.40" x2="216.20" y2="270.40" class="tk"/><line x1="228.79" y1="268.40" x2="228.79" y2="269.50" class="tk"/><line x1="241.38" y1="268.40" x2="241.38" y2="270.40" class="tk"/><line x1="253.97" y1="268.40" x2="253.97" y2="269.50" class="tk"/><line x1="266.56" y1="268.40" x2="266.56" y2="270.40" class="tk"/><line x1="279.15" y1="268.40" x2="279.15" y2="269.50" class="tk"/><line x1="291.74" y1="268.40" x2="291.74" y2="270.40" class="tk"/><line x1="304.33" y1="268.40" x2="304.33" y2="269.50" class="tk"/><line x1="316.92" y1="268.40" x2="316.92" y2="270.40" class="tk"/><line x1="329.51" y1="268.40" x2="329.51" y2="269.50" class="tk"/><line x1="342.10" y1="268.40" x2="342.10" y2="270.40" class="tk"/><text x="213.20" y="169.10" class="tl" text-anchor="end">0</text><text x="213.20" y="189.28" class="tl" text-anchor="end">-5</text><text x="213.20" y="209.46" class="tl" text-anchor="end">-10</text><text x="213.20" y="229.64" class="tl" text-anchor="end">-15</text><text x="213.20" y="249.82" class="tl" text-anchor="end">-20</text><text x="213.20" y="270.00" class="tl" text-anchor="end">-25</text><text x="216.20" y="275.90" class="tl" text-anchor="middle">20</text><text x="241.38" y="275.90" class="tl" text-anchor="middle">25</text><text x="266.56" y="275.90" class="tl" text-anchor="middle">30</text><text x="291.74" y="275.90" class="tl" text-anchor="middle">35</text><text x="316.92" y="275.90" class="tl" text-anchor="middle">40</text><text x="342.10" y="275.90" class="tl" text-anchor="middle">45</text><text x="259.10" y="283.80" class="at ft" textLength="40.5" lengthAdjust="spacingAndGlyphs">Frequency (GHz)</text><text transform="translate(205.40 217.95) rotate(-90)" class="at" text-anchor="middle" textLength="76.7" lengthAdjust="spacingAndGlyphs">Simmulated Insertion losses (dB)</text><rect x="224.40" y="175.50" width="108.30" height="13.2" class="leg"/><line x1="225.20" y1="178.70" x2="237.00" y2="178.70" stroke="#acacac" class="ll"/><text x="238.70" y="180.70" class="lt">S6,2</text><line x1="252.28" y1="178.70" x2="264.07" y2="178.70" stroke="#f09da7" class="ll"/><text x="265.77" y="180.70" class="lt">S7,2</text><line x1="279.35" y1="178.70" x2="291.15" y2="178.70" stroke="#94b3e6" class="ll"/><text x="292.85" y="180.70" class="lt">S8,2</text><line x1="306.43" y1="178.70" x2="318.23" y2="178.70" stroke="#95d6bd" class="ll"/><text x="319.93" y="180.70" class="lt">S9,2</text><line x1="225.20" y1="185.00" x2="237.00" y2="185.00" stroke="#dbb7eb" class="ll"/><text x="238.70" y="187.00" class="lt">S10,2</text><line x1="252.28" y1="185.00" x2="264.07" y2="185.00" stroke="#e3d68d" class="ll"/><text x="265.77" y="187.00" class="lt">S11,2</text><line x1="279.35" y1="185.00" x2="291.15" y2="185.00" stroke="#83dbde" class="ll"/><text x="292.85" y="187.00" class="lt">S12,2</text><line x1="306.43" y1="185.00" x2="318.23" y2="185.00" stroke="#c6acac" class="ll"/><text x="319.93" y="187.00" class="lt">S13,2</text><text x="265.40" y="304.40" class="cap" textLength="20.46" lengthAdjust="spacingAndGlyphs"><tspan font-weight="bold" font-size="12.3px">2</tspan><tspan class="pn">(</tspan><tspan font-weight="bold" font-size="11.4px">b</tspan><tspan class="pn">)</tspan></text></g><g><line x1="436.72" y1="168.20" x2="436.72" y2="267.50" class="grid"/><line x1="463.44" y1="168.20" x2="463.44" y2="267.50" class="grid"/><line x1="490.16" y1="168.20" x2="490.16" y2="267.50" class="grid"/><line x1="516.88" y1="168.20" x2="516.88" y2="267.50" class="grid"/><line x1="410.00" y1="188.06" x2="543.60" y2="188.06" class="grid"/><line x1="410.00" y1="207.92" x2="543.60" y2="207.92" class="grid"/><line x1="410.00" y1="227.78" x2="543.60" y2="227.78" class="grid"/><line x1="410.00" y1="247.64" x2="543.60" y2="247.64" class="grid"/><path d="M410.00 229.00C410.62 229.20 412.48 229.60 413.70 230.20C414.92 230.80 415.88 231.68 417.30 232.60C418.72 233.52 420.57 234.78 422.20 235.70C423.83 236.62 425.48 237.30 427.10 238.10C428.72 238.90 430.28 239.68 431.90 240.50C433.52 241.32 435.45 242.33 436.80 243.00C438.15 243.67 438.97 244.17 440.00 244.50C441.03 244.83 441.92 245.08 443.00 245.00C444.08 244.92 445.10 244.47 446.50 244.00C447.90 243.53 449.77 242.87 451.40 242.20C453.03 241.53 454.67 240.78 456.30 240.00C457.93 239.22 459.58 238.12 461.20 237.50C462.82 236.88 464.38 236.60 466.00 236.30C467.62 236.00 469.57 235.87 470.90 235.70C472.23 235.53 472.98 235.62 474.00 235.30C475.02 234.98 475.83 234.43 477.00 233.80C478.17 233.17 479.38 232.20 481.00 231.50C482.62 230.80 485.13 230.02 486.70 229.60C488.27 229.18 489.10 228.97 490.40 229.00C491.70 229.03 493.08 229.27 494.50 229.80C495.92 230.33 497.35 231.12 498.90 232.20C500.45 233.28 502.17 234.83 503.80 236.30C505.43 237.77 507.08 239.68 508.70 241.00C510.32 242.32 511.88 243.67 513.50 244.20C515.12 244.73 516.77 244.60 518.40 244.20C520.03 243.80 521.67 242.72 523.30 241.80C524.93 240.88 526.58 239.42 528.20 238.70C529.82 237.98 531.38 237.40 533.00 237.50C534.62 237.60 536.27 238.28 537.90 239.30C539.53 240.32 541.85 242.82 542.80 243.60C543.75 244.38 543.47 243.93 543.60 244.00" stroke="#808080" class="cv"/><path d="M410.00 232.00C410.67 232.17 412.58 232.70 414.00 233.00C415.42 233.30 416.93 233.45 418.50 233.80C420.07 234.15 421.77 235.10 423.40 235.10C425.03 235.10 426.68 234.32 428.30 233.80C429.92 233.28 431.48 232.60 433.10 232.00C434.72 231.40 436.52 230.62 438.00 230.20C439.48 229.78 440.50 229.45 442.00 229.50C443.50 229.55 445.23 230.08 447.00 230.50C448.77 230.92 450.85 231.55 452.60 232.00C454.35 232.45 455.93 233.37 457.50 233.20C459.07 233.03 460.38 231.92 462.00 231.00C463.62 230.08 465.52 228.65 467.20 227.70C468.88 226.75 470.47 224.92 472.10 225.30C473.73 225.68 475.90 228.22 477.00 230.00C478.10 231.78 477.82 234.33 478.70 236.00C479.58 237.67 481.30 239.12 482.30 240.00C483.30 240.88 483.68 241.32 484.70 241.30C485.72 241.28 486.83 240.87 488.40 239.90C489.97 238.93 492.55 236.82 494.10 235.50C495.65 234.18 496.48 232.75 497.70 232.00C498.92 231.25 500.02 230.83 501.40 231.00C502.78 231.17 504.38 232.03 506.00 233.00C507.62 233.97 509.43 235.55 511.10 236.80C512.77 238.05 514.58 239.80 516.00 240.50C517.42 241.20 518.18 241.22 519.60 241.00C521.02 240.78 522.87 240.28 524.50 239.20C526.13 238.12 527.78 235.70 529.40 234.50C531.02 233.30 532.58 232.25 534.20 232.00C535.82 231.75 537.53 232.33 539.10 233.00C540.67 233.67 542.85 235.50 543.60 236.00" stroke="#e86878" class="cv"/><path d="M410.00 226.50C410.83 226.67 413.33 227.17 415.00 227.50C416.67 227.83 418.33 228.20 420.00 228.50C421.67 228.80 423.33 229.12 425.00 229.30C426.67 229.48 428.33 229.52 430.00 229.60C431.67 229.68 433.47 229.70 435.00 229.80C436.53 229.90 437.68 229.93 439.20 230.20C440.72 230.47 442.47 231.07 444.10 231.40C445.73 231.73 447.38 232.00 449.00 232.20C450.62 232.40 452.22 232.72 453.80 232.60C455.38 232.48 456.97 232.02 458.50 231.50C460.03 230.98 461.33 230.33 463.00 229.50C464.67 228.67 466.98 227.20 468.50 226.50C470.02 225.80 470.68 224.88 472.10 225.30C473.52 225.72 475.37 227.72 477.00 229.00C478.63 230.28 480.28 232.10 481.90 233.00C483.52 233.90 485.08 234.50 486.70 234.40C488.32 234.30 489.97 233.23 491.60 232.40C493.23 231.57 494.87 230.12 496.50 229.40C498.13 228.68 499.78 228.00 501.40 228.10C503.02 228.20 504.58 229.08 506.20 230.00C507.82 230.92 509.47 232.58 511.10 233.60C512.73 234.62 514.38 235.68 516.00 236.10C517.62 236.52 519.18 236.52 520.80 236.10C522.42 235.68 524.07 234.42 525.70 233.60C527.33 232.78 528.97 231.80 530.60 231.20C532.23 230.60 533.88 229.90 535.50 230.00C537.12 230.10 538.95 231.13 540.30 231.80C541.65 232.47 543.05 233.63 543.60 234.00" stroke="#5a8ad8" class="cv"/><path d="M410.00 225.90C410.83 225.95 413.33 225.93 415.00 226.20C416.67 226.47 418.33 227.12 420.00 227.50C421.67 227.88 423.33 228.22 425.00 228.50C426.67 228.78 428.17 229.03 430.00 229.20C431.83 229.37 434.17 229.45 436.00 229.50C437.83 229.55 439.33 229.58 441.00 229.50C442.67 229.42 444.33 229.17 446.00 229.00C447.67 228.83 449.33 228.67 451.00 228.50C452.67 228.33 454.33 228.20 456.00 228.00C457.67 227.80 459.33 227.60 461.00 227.30C462.67 227.00 464.33 226.48 466.00 226.20C467.67 225.92 469.58 225.57 471.00 225.64C472.42 225.72 473.50 226.00 474.50 226.64C475.50 227.29 475.77 228.47 477.00 229.50C478.23 230.53 480.28 232.05 481.90 232.80C483.52 233.55 485.08 234.13 486.70 234.00C488.32 233.87 489.97 232.83 491.60 232.00C493.23 231.17 494.87 229.72 496.50 229.00C498.13 228.28 499.78 227.62 501.40 227.70C503.02 227.78 504.58 228.62 506.20 229.50C507.82 230.38 509.47 232.00 511.10 233.00C512.73 234.00 514.38 235.08 516.00 235.50C517.62 235.92 519.18 235.92 520.80 235.50C522.42 235.08 524.07 233.78 525.70 233.00C527.33 232.22 528.97 231.38 530.60 230.80C532.23 230.22 533.88 229.43 535.50 229.50C537.12 229.57 538.95 230.53 540.30 231.20C541.65 231.87 543.05 233.12 543.60 233.50" stroke="#5cc09a" class="cv"/><path d="M410.00 229.00C410.83 229.20 413.33 229.82 415.00 230.20C416.67 230.58 418.33 231.17 420.00 231.30C421.67 231.43 423.33 231.17 425.00 231.00C426.67 230.83 428.33 230.50 430.00 230.30C431.67 230.10 433.33 229.88 435.00 229.80C436.67 229.72 438.33 229.72 440.00 229.80C441.67 229.88 443.33 230.10 445.00 230.30C446.67 230.50 448.33 230.85 450.00 231.00C451.67 231.15 453.33 231.37 455.00 231.20C456.67 231.03 458.33 230.62 460.00 230.00C461.67 229.38 463.33 228.30 465.00 227.50C466.67 226.70 468.62 225.59 470.00 225.20C471.38 224.81 472.13 224.62 473.30 225.17C474.47 225.72 475.57 227.13 477.00 228.50C478.43 229.87 480.28 232.32 481.90 233.40C483.52 234.48 485.08 235.07 486.70 235.00C488.32 234.93 489.97 233.83 491.60 233.00C493.23 232.17 494.87 230.75 496.50 230.00C498.13 229.25 499.78 228.43 501.40 228.50C503.02 228.57 504.58 229.48 506.20 230.40C507.82 231.32 509.47 232.98 511.10 234.00C512.73 235.02 514.38 236.08 516.00 236.50C517.62 236.92 519.18 236.92 520.80 236.50C522.42 236.08 524.07 234.83 525.70 234.00C527.33 233.17 528.97 232.10 530.60 231.50C532.23 230.90 533.88 230.32 535.50 230.40C537.12 230.48 538.95 231.32 540.30 232.00C541.65 232.68 543.05 234.08 543.60 234.50" stroke="#c890e0" class="cv"/><path d="M410.00 227.10C410.82 227.00 413.28 226.40 414.90 226.50C416.52 226.60 418.08 227.28 419.70 227.70C421.32 228.12 422.97 228.68 424.60 229.00C426.23 229.32 427.93 229.47 429.50 229.60C431.07 229.73 432.58 229.70 434.00 229.80C435.42 229.90 436.92 229.73 438.00 230.20C439.08 230.67 439.68 231.68 440.50 232.60C441.32 233.52 441.90 234.88 442.90 235.70C443.90 236.52 445.28 237.20 446.50 237.50C447.72 237.80 448.77 237.60 450.20 237.50C451.63 237.40 453.48 237.30 455.10 236.90C456.72 236.50 458.28 235.82 459.90 235.10C461.52 234.38 463.17 233.52 464.80 232.60C466.43 231.68 468.07 230.19 469.70 229.60C471.33 229.01 473.38 228.99 474.60 229.06C475.82 229.12 475.78 229.21 477.00 230.00C478.22 230.79 480.28 232.93 481.90 233.80C483.52 234.67 485.08 235.33 486.70 235.20C488.32 235.07 489.97 233.87 491.60 233.00C493.23 232.13 494.87 230.72 496.50 230.00C498.13 229.28 499.78 228.60 501.40 228.70C503.02 228.80 504.58 229.68 506.20 230.60C507.82 231.52 509.47 233.18 511.10 234.20C512.73 235.22 514.38 236.28 516.00 236.70C517.62 237.12 519.18 237.12 520.80 236.70C522.42 236.28 524.07 235.02 525.70 234.20C527.33 233.38 528.97 232.40 530.60 231.80C532.23 231.20 533.88 230.50 535.50 230.60C537.12 230.70 538.95 231.67 540.30 232.40C541.65 233.13 543.05 234.57 543.60 235.00" stroke="#d4c050" class="cv"/><path d="M410.00 235.00C410.62 235.52 412.48 237.28 413.70 238.10C414.92 238.92 415.88 239.50 417.30 239.90C418.72 240.30 420.58 240.43 422.20 240.50C423.82 240.57 425.38 240.40 427.00 240.30C428.62 240.20 430.47 240.17 431.90 239.90C433.33 239.63 434.38 239.50 435.60 238.70C436.82 237.90 437.98 236.42 439.20 235.10C440.42 233.78 441.47 231.72 442.90 230.80C444.33 229.88 446.12 229.90 447.80 229.60C449.48 229.30 451.18 229.20 453.00 229.00C454.82 228.80 456.93 228.72 458.70 228.40C460.47 228.08 461.97 227.52 463.60 227.10C465.23 226.68 466.88 226.12 468.50 225.90C470.12 225.68 471.88 225.20 473.30 225.80C474.72 226.40 476.10 227.97 477.00 229.50C477.90 231.03 477.82 233.33 478.70 235.00C479.58 236.67 481.30 238.58 482.30 239.50C483.30 240.42 483.68 240.58 484.70 240.50C485.72 240.42 486.83 239.90 488.40 239.00C489.97 238.10 492.55 236.37 494.10 235.10C495.65 233.83 496.48 232.22 497.70 231.40C498.92 230.58 500.02 230.10 501.40 230.20C502.78 230.30 504.38 231.07 506.00 232.00C507.62 232.93 509.43 234.55 511.10 235.80C512.77 237.05 514.58 238.72 516.00 239.50C517.42 240.28 518.18 240.72 519.60 240.50C521.02 240.28 522.87 239.32 524.50 238.20C526.13 237.08 527.78 234.93 529.40 233.80C531.02 232.67 532.58 231.60 534.20 231.40C535.82 231.20 537.53 232.00 539.10 232.60C540.67 233.20 542.85 234.60 543.60 235.00" stroke="#40c8cc" class="cv"/><path d="M410.00 229.60C410.67 229.92 412.58 230.72 414.00 231.50C415.42 232.28 416.93 233.42 418.50 234.30C420.07 235.18 421.77 236.10 423.40 236.80C425.03 237.50 426.68 237.88 428.30 238.50C429.92 239.12 431.48 239.88 433.10 240.50C434.72 241.12 436.37 241.65 438.00 242.20C439.63 242.75 441.27 243.33 442.90 243.80C444.53 244.27 446.20 244.63 447.80 245.00C449.40 245.37 451.08 245.75 452.50 246.00C453.92 246.25 455.22 246.47 456.30 246.50C457.38 246.53 457.98 246.55 459.00 246.20C460.02 245.85 461.23 245.18 462.40 244.40C463.57 243.62 464.58 242.48 466.00 241.50C467.42 240.52 469.57 239.25 470.90 238.50C472.23 237.75 472.98 237.50 474.00 237.00C475.02 236.50 475.83 236.17 477.00 235.50C478.17 234.83 479.58 233.75 481.00 233.00C482.42 232.25 483.93 231.45 485.50 231.00C487.07 230.55 488.82 230.22 490.40 230.30C491.98 230.38 493.57 230.88 495.00 231.50C496.43 232.12 497.53 233.00 499.00 234.00C500.47 235.00 502.18 236.33 503.80 237.50C505.42 238.67 507.08 240.08 508.70 241.00C510.32 241.92 511.88 242.70 513.50 243.00C515.12 243.30 516.77 243.22 518.40 242.80C520.03 242.38 521.67 241.38 523.30 240.50C524.93 239.62 526.58 238.25 528.20 237.50C529.82 236.75 531.37 236.08 533.00 236.00C534.63 235.92 536.23 236.33 538.00 237.00C539.77 237.67 542.67 239.50 543.60 240.00" stroke="#a88080" class="cv"/><rect x="410.00" y="168.20" width="133.60" height="99.30" class="frame"/><line x1="408.00" y1="168.20" x2="410.00" y2="168.20" class="tk"/><line x1="408.90" y1="178.13" x2="410.00" y2="178.13" class="tk"/><line x1="408.00" y1="188.06" x2="410.00" y2="188.06" class="tk"/><line x1="408.90" y1="197.99" x2="410.00" y2="197.99" class="tk"/><line x1="408.00" y1="207.92" x2="410.00" y2="207.92" class="tk"/><line x1="408.90" y1="217.85" x2="410.00" y2="217.85" class="tk"/><line x1="408.00" y1="227.78" x2="410.00" y2="227.78" class="tk"/><line x1="408.90" y1="237.71" x2="410.00" y2="237.71" class="tk"/><line x1="408.00" y1="247.64" x2="410.00" y2="247.64" class="tk"/><line x1="408.90" y1="257.57" x2="410.00" y2="257.57" class="tk"/><line x1="408.00" y1="267.50" x2="410.00" y2="267.50" class="tk"/><line x1="410.00" y1="267.50" x2="410.00" y2="269.50" class="tk"/><line x1="423.36" y1="267.50" x2="423.36" y2="268.60" class="tk"/><line x1="436.72" y1="267.50" x2="436.72" y2="269.50" class="tk"/><line x1="450.08" y1="267.50" x2="450.08" y2="268.60" class="tk"/><line x1="463.44" y1="267.50" x2="463.44" y2="269.50" class="tk"/><line x1="476.80" y1="267.50" x2="476.80" y2="268.60" class="tk"/><line x1="490.16" y1="267.50" x2="490.16" y2="269.50" class="tk"/><line x1="503.52" y1="267.50" x2="503.52" y2="268.60" class="tk"/><line x1="516.88" y1="267.50" x2="516.88" y2="269.50" class="tk"/><line x1="530.24" y1="267.50" x2="530.24" y2="268.60" class="tk"/><line x1="543.60" y1="267.50" x2="543.60" y2="269.50" class="tk"/><text x="407.00" y="169.80" class="tl" text-anchor="end">0</text><text x="407.00" y="189.66" class="tl" text-anchor="end">-5</text><text x="407.00" y="209.52" class="tl" text-anchor="end">-10</text><text x="407.00" y="229.38" class="tl" text-anchor="end">-15</text><text x="407.00" y="249.24" class="tl" text-anchor="end">-20</text><text x="407.00" y="269.10" class="tl" text-anchor="end">-25</text><text x="410.00" y="274.10" class="tl" text-anchor="middle">20</text><text x="436.72" y="274.10" class="tl" text-anchor="middle">25</text><text x="463.44" y="274.10" class="tl" text-anchor="middle">30</text><text x="490.16" y="274.10" class="tl" text-anchor="middle">35</text><text x="516.88" y="274.10" class="tl" text-anchor="middle">40</text><text x="543.60" y="274.10" class="tl" text-anchor="middle">45</text><text x="455.70" y="282.40" class="at ft" textLength="43.0" lengthAdjust="spacingAndGlyphs">Frequency (GHz)</text><text transform="translate(397.70 217.85) rotate(-90)" class="at" text-anchor="middle" textLength="75.5" lengthAdjust="spacingAndGlyphs">Simmulated Insertion losses (dB)</text><rect x="418.20" y="176.20" width="116.00" height="13.2" class="leg"/><line x1="419.00" y1="179.40" x2="430.80" y2="179.40" stroke="#acacac" class="ll"/><text x="432.50" y="181.40" class="lt">S6,3</text><line x1="448.00" y1="179.40" x2="459.80" y2="179.40" stroke="#f09da7" class="ll"/><text x="461.50" y="181.40" class="lt">S7,3</text><line x1="477.00" y1="179.40" x2="488.80" y2="179.40" stroke="#94b3e6" class="ll"/><text x="490.50" y="181.40" class="lt">S8,3</text><line x1="506.00" y1="179.40" x2="517.80" y2="179.40" stroke="#95d6bd" class="ll"/><text x="519.50" y="181.40" class="lt">S9,3</text><line x1="419.00" y1="185.70" x2="430.80" y2="185.70" stroke="#dbb7eb" class="ll"/><text x="432.50" y="187.70" class="lt">S10,3</text><line x1="448.00" y1="185.70" x2="459.80" y2="185.70" stroke="#e3d68d" class="ll"/><text x="461.50" y="187.70" class="lt">S11,3</text><line x1="477.00" y1="185.70" x2="488.80" y2="185.70" stroke="#83dbde" class="ll"/><text x="490.50" y="187.70" class="lt">S12,3</text><line x1="506.00" y1="185.70" x2="517.80" y2="185.70" stroke="#c6acac" class="ll"/><text x="519.50" y="187.70" class="lt">S13,3</text><text x="464.40" y="304.50" class="cap" textLength="18.87" lengthAdjust="spacingAndGlyphs"><tspan font-weight="bold" font-size="12.3px">2</tspan><tspan class="pn">(</tspan><tspan font-weight="bold" font-size="10.6px">c</tspan><tspan class="pn">)</tspan></text></g>
</svg></body></html>
